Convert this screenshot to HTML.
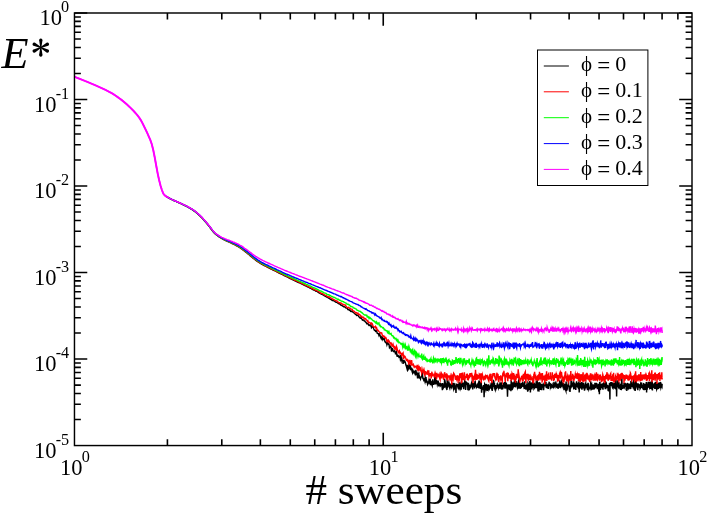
<!DOCTYPE html>
<html><head><meta charset="utf-8"><title>E* vs sweeps</title>
<style>
html,body{margin:0;padding:0;background:#fff;}
body{width:708px;height:515px;overflow:hidden;}
svg{display:block;will-change:transform;}
text{font-family:"Liberation Serif",serif;fill:#000;}
</style></head><body>
<svg width="708" height="515" viewBox="0 0 708 515">
<rect width="708" height="515" fill="#fff"/>
<g fill="none" stroke-width="1.45" stroke-linejoin="miter" stroke-miterlimit="6" stroke-linecap="butt">
<path stroke="#000000" d="M166.1 196.4 L167.4 197.2 L168.8 198.0 L170.1 198.6 L171.4 199.3 L172.7 199.9 L174.0 200.5 L175.2 201.1 L176.5 201.6 L177.7 202.2 L179.0 202.7 L180.2 203.2 L181.4 203.8 L182.6 204.4 L183.8 205.0 L185.0 205.6 L186.2 206.1 L187.3 206.7 L188.5 207.4 L189.6 208.0 L190.7 208.7 L191.9 209.4 L193.0 210.1 L194.1 210.9 L195.2 211.7 L196.3 212.6 L197.3 213.5 L198.4 214.4 L199.5 215.4 L200.5 216.4 L201.6 217.4 L202.6 218.6 L203.6 219.7 L204.6 220.9 L205.7 222.1 L206.7 223.3 L207.7 224.4 L208.6 225.6 L209.6 226.9 L210.6 228.3 L211.6 229.6 L212.5 230.9 L213.5 232.0 L214.4 233.1 L215.4 234.0 L216.3 234.8 L217.2 235.5 L218.2 236.1 L219.1 236.8 L220.0 237.4 L220.9 237.9 L221.8 238.5 L222.7 239.0 L223.6 239.5 L224.4 239.9 L225.3 240.3 L226.2 240.8 L227.0 241.1 L227.9 241.5 L228.8 241.9 L229.6 242.3 L230.4 242.7 L231.3 243.1 L232.1 243.5 L232.9 243.9 L233.8 244.3 L234.6 244.7 L235.4 245.1 L236.2 245.5 L237.0 246.0 L237.8 246.4 L238.6 246.9 L239.4 247.3 L240.1 247.9 L240.9 248.4 L241.7 248.9 L242.5 249.5 L243.2 250.1 L244.0 250.7 L244.7 251.2 L245.5 251.8 L246.2 252.4 L247.0 253.0 L247.7 253.6 L248.5 254.2 L249.2 254.8 L249.9 255.4 L250.6 256.1 L251.4 256.7 L252.1 257.3 L252.8 257.9 L253.5 258.5 L254.2 259.0 L254.9 259.5 L255.6 260.1 L256.3 260.6 L257.0 261.1 L257.7 261.6 L258.3 262.0 L259.0 262.5 L259.7 262.9 L260.4 263.3 L261.7 264.1 L263.0 264.9 L264.3 265.6 L265.6 266.2 L266.9 266.9 L268.2 267.5 L269.4 268.1 L270.7 268.8 L271.9 269.4 L273.1 270.0 L274.4 270.6 L275.6 271.2 L276.8 271.8 L277.9 272.4 L279.1 273.0 L280.3 273.6 L281.4 274.2 L282.6 274.7 L283.7 275.3 L284.8 275.8 L285.9 276.4 L287.0 276.9 L288.1 277.4 L289.2 278.0 L290.3 278.5 L291.4 279.0 L292.4 279.5 L293.5 280.0 L294.5 280.5 L295.5 281.0 L296.6 281.5 L297.6 282.0 L298.6 282.5 L299.6 282.9 L300.6 283.3 L301.6 283.8 L302.6 284.4 L303.6 284.8 L304.5 285.4 L305.5 285.8 L306.4 286.2 L307.4 286.8 L308.3 287.1 L309.3 287.5 L310.2 288.3 L311.1 288.4 L312.0 289.1 L312.9 289.6 L313.8 290.0 L314.7 290.3 L315.6 291.0 L316.5 291.2 L317.4 291.7 L318.3 292.3 L319.1 292.9 L320.0 293.3 L320.9 293.9 L321.7 294.2 L322.5 294.7 L323.4 295.0 L324.2 295.6 L325.1 296.2 L325.9 296.5 L326.7 297.1 L327.5 297.4 L328.3 297.8 L329.1 298.4 L329.9 298.8 L330.7 299.4 L331.5 299.7 L332.3 300.5 L333.1 300.5 L333.9 300.9 L334.6 301.1 L335.4 301.8 L336.2 302.3 L336.9 302.4 L337.7 303.0 L338.4 303.6 L339.2 303.8 L339.9 304.1 L340.7 305.0 L341.4 305.1 L342.1 305.6 L342.9 306.3 L343.6 306.8 L344.3 306.7 L345.0 307.1 L345.7 307.8 L346.4 308.1 L347.1 307.9 L347.8 309.5 L348.5 309.5 L349.2 310.2 L349.9 309.9 L350.6 311.3 L351.3 311.0 L352.0 311.7 L352.6 311.6 L353.3 312.5 L354.0 313.0 L354.6 313.4 L355.3 314.2 L356.0 314.5 L356.6 315.4 L357.3 315.2 L357.9 315.4 L358.6 316.3 L359.2 317.1 L359.9 318.0 L360.5 318.2 L361.1 317.4 L361.8 319.0 L362.4 320.1 L363.0 319.8 L363.6 320.0 L364.3 321.0 L364.9 321.0 L365.5 322.2 L366.1 322.3 L366.7 323.7 L367.3 323.6 L367.9 323.3 L368.5 324.8 L369.1 325.5 L369.7 325.0 L370.3 325.6 L370.9 324.8 L371.5 327.7 L372.1 327.1 L372.6 326.5 L373.2 327.3 L373.8 329.0 L374.4 330.3 L374.9 330.2 L375.5 331.2 L376.1 330.5 L376.6 330.8 L377.2 333.3 L377.8 333.5 L378.3 333.6 L378.9 335.4 L379.4 334.0 L380.0 335.1 L380.5 337.0 L381.1 338.3 L381.6 337.3 L382.2 339.4 L382.7 337.9 L383.2 339.4 L383.8 339.5 L384.3 338.7 L384.8 341.2 L385.4 342.4 L385.9 341.9 L386.4 342.6 L386.9 344.7 L387.5 342.6 L388.0 342.9 L388.5 344.3 L389.0 344.3 L389.5 347.7 L390.0 347.1 L390.5 346.4 L391.0 347.2 L391.6 351.7 L392.1 348.4 L392.6 348.7 L393.1 350.5 L393.6 351.5 L394.1 351.6 L394.5 350.8 L395.0 351.1 L395.5 353.7 L396.0 353.5 L396.5 352.1 L397.0 356.1 L397.5 356.2 L398.0 355.4 L398.4 355.9 L398.9 357.1 L399.4 356.4 L399.9 356.1 L400.3 358.7 L400.8 356.9 L401.3 359.9 L401.7 357.9 L402.2 360.2 L402.7 360.7 L403.1 363.8 L403.6 360.4 L404.1 360.4 L404.5 361.9 L405.0 361.7 L405.4 363.0 L405.9 365.0 L406.3 366.0 L406.8 367.8 L407.2 364.7 L407.7 370.3 L408.1 369.8 L408.6 366.9 L409.0 364.0 L409.5 368.0 L409.9 368.6 L410.3 365.2 L410.8 369.5 L411.2 369.5 L411.6 368.9 L412.1 371.6 L412.5 372.7 L412.9 370.6 L413.4 372.1 L413.8 371.0 L414.2 371.1 L414.7 373.0 L415.1 374.1 L415.5 372.5 L415.9 369.9 L416.3 375.2 L416.8 371.6 L417.2 375.0 L417.6 378.3 L418.0 375.4 L418.4 373.5 L418.8 373.2 L419.2 378.5 L419.6 376.5 L420.1 377.8 L420.5 378.9 L420.9 377.3 L421.3 377.0 L421.7 376.0 L422.1 372.1 L422.5 375.4 L422.9 378.5 L423.3 378.5 L423.7 379.9 L424.1 379.1 L424.5 379.9 L424.9 381.4 L425.3 378.2 L425.6 379.6 L426.0 377.1 L426.4 382.7 L426.8 380.9 L427.2 382.0 L427.6 384.4 L428.0 383.6 L428.4 381.3 L428.7 383.3 L429.1 378.6 L429.5 382.8 L429.9 382.3 L430.2 378.5 L430.5 385.1 L430.9 380.7 L431.2 383.9 L431.5 381.5 L431.9 384.8 L432.2 385.6 L432.5 380.9 L432.8 379.4 L433.2 382.6 L433.5 384.9 L433.8 382.3 L434.2 381.8 L434.5 384.4 L434.8 377.1 L435.1 381.9 L435.5 380.4 L435.8 384.3 L436.1 382.0 L436.5 381.2 L436.8 383.0 L437.1 380.6 L437.4 384.0 L437.8 382.5 L438.1 383.3 L438.4 382.6 L438.8 386.4 L439.1 384.1 L439.4 385.6 L439.7 385.6 L440.1 382.7 L440.4 385.9 L440.7 385.5 L441.0 385.5 L441.4 383.9 L441.7 383.9 L442.0 386.8 L442.4 390.1 L442.7 383.1 L443.0 386.3 L443.3 384.3 L443.7 387.0 L444.0 386.3 L444.3 387.8 L444.6 378.8 L445.0 384.0 L445.3 383.1 L445.6 385.2 L445.9 383.8 L446.3 384.0 L446.6 387.1 L446.9 390.1 L447.2 378.9 L447.6 384.9 L447.9 386.4 L448.2 385.7 L448.5 384.8 L448.9 382.4 L449.2 383.4 L449.5 387.4 L449.8 388.3 L450.2 385.9 L450.5 383.7 L450.8 385.9 L451.1 385.1 L451.5 387.0 L451.8 386.0 L452.1 384.2 L452.4 386.2 L452.8 382.9 L453.1 387.7 L453.4 388.6 L453.7 382.9 L454.1 386.8 L454.4 383.3 L454.7 388.4 L455.0 388.0 L455.4 385.2 L455.7 388.2 L456.0 393.0 L456.3 384.2 L456.6 384.3 L457.0 385.4 L457.3 385.0 L457.6 386.1 L457.9 384.2 L458.3 387.7 L458.6 388.3 L458.9 384.5 L459.2 382.2 L459.5 387.6 L459.9 388.6 L460.2 385.4 L460.5 382.6 L460.8 386.4 L461.2 389.6 L461.5 381.1 L461.8 387.0 L462.1 385.0 L462.4 383.6 L462.8 387.1 L463.1 382.5 L463.4 386.5 L463.7 389.1 L464.0 386.2 L464.4 383.6 L464.7 381.3 L465.0 382.5 L465.3 381.1 L465.6 389.9 L466.0 385.2 L466.3 383.1 L466.6 382.5 L466.9 383.1 L467.2 385.0 L467.6 382.5 L467.9 390.1 L468.2 383.9 L468.5 383.8 L468.8 386.6 L469.2 389.6 L469.5 389.3 L469.8 384.6 L470.1 386.5 L470.4 386.2 L470.8 387.2 L471.1 386.5 L471.4 383.4 L471.7 382.5 L472.0 386.3 L472.4 382.7 L472.7 389.4 L473.0 385.9 L473.3 383.1 L473.6 385.0 L473.9 384.5 L474.3 385.5 L474.6 388.4 L474.9 382.0 L475.2 380.9 L475.5 386.8 L475.9 385.4 L476.2 386.3 L476.5 387.0 L476.8 385.4 L477.1 388.0 L477.4 383.5 L477.8 386.0 L478.1 383.6 L478.4 382.8 L478.7 387.5 L479.0 387.4 L479.3 380.6 L479.7 382.8 L480.0 386.7 L480.3 388.8 L480.6 384.1 L480.9 385.4 L481.2 382.1 L481.6 392.7 L481.9 387.2 L482.2 388.3 L482.5 387.7 L482.8 388.4 L483.1 387.5 L483.4 385.0 L483.8 387.9 L484.1 397.2 L484.4 389.4 L484.7 383.9 L485.0 384.4 L485.3 387.7 L485.7 389.3 L486.0 386.3 L486.3 384.0 L486.6 385.6 L486.9 384.5 L487.2 391.0 L487.5 388.3 L487.9 389.3 L488.2 386.7 L488.5 384.4 L488.8 389.1 L489.1 390.4 L489.4 387.5 L489.7 385.8 L490.1 388.8 L490.4 384.9 L490.7 388.0 L491.0 384.0 L491.3 383.3 L491.6 387.4 L491.9 386.8 L492.2 391.0 L492.6 385.1 L492.9 386.0 L493.2 382.8 L493.5 380.8 L493.8 381.1 L494.1 387.1 L494.4 382.7 L494.8 388.9 L495.1 389.7 L495.4 385.1 L495.7 390.4 L496.0 386.5 L496.3 388.9 L496.6 385.3 L496.9 388.5 L497.2 383.4 L497.6 387.6 L497.9 384.7 L498.2 385.5 L498.5 387.6 L498.8 386.4 L499.1 385.7 L499.4 387.9 L499.7 388.1 L500.0 382.2 L500.4 387.4 L500.7 387.7 L501.0 383.9 L501.3 386.9 L501.6 382.3 L501.9 389.8 L502.2 385.3 L502.5 385.7 L502.8 389.1 L503.2 385.5 L503.5 387.5 L503.8 383.1 L504.1 384.4 L504.4 382.1 L504.7 385.3 L505.0 388.7 L505.3 386.5 L505.6 388.3 L505.9 383.1 L506.3 383.5 L506.6 384.6 L506.9 387.4 L507.2 386.9 L507.5 396.8 L507.8 387.6 L508.1 385.5 L508.4 385.8 L508.7 389.4 L509.0 384.3 L509.3 386.4 L509.6 390.2 L510.0 386.2 L510.3 387.8 L510.6 384.3 L510.9 391.2 L511.2 379.8 L511.5 382.8 L511.8 383.0 L512.1 390.3 L512.4 386.8 L512.7 385.2 L513.0 382.4 L513.3 386.9 L513.6 386.2 L514.0 384.0 L514.3 381.9 L514.6 382.9 L514.9 386.5 L515.2 386.7 L515.5 386.1 L515.8 385.5 L516.1 381.1 L516.4 386.0 L516.7 383.1 L517.0 386.0 L517.3 387.1 L517.6 384.1 L517.9 383.1 L518.2 388.6 L518.6 386.8 L518.9 384.2 L519.2 377.8 L519.5 385.8 L519.8 387.6 L520.1 388.9 L520.4 384.1 L520.7 384.2 L521.0 384.7 L521.3 388.2 L521.6 382.7 L521.9 385.6 L522.2 383.4 L522.5 386.6 L522.8 381.7 L523.1 386.9 L523.4 384.5 L523.7 385.3 L524.0 387.3 L524.3 389.0 L524.7 381.3 L525.0 388.6 L525.3 387.4 L525.6 385.1 L525.9 389.7 L526.2 386.4 L526.5 389.4 L526.8 384.3 L527.1 383.5 L527.4 389.2 L527.7 391.7 L528.0 387.6 L528.3 388.3 L528.6 384.6 L528.9 382.3 L529.2 385.3 L529.5 389.9 L529.8 380.9 L530.1 384.5 L530.4 392.5 L530.7 386.2 L531.0 388.2 L531.3 382.5 L531.6 384.8 L531.9 389.5 L532.2 385.6 L532.5 382.5 L532.8 382.3 L533.1 380.4 L533.4 388.0 L533.7 383.9 L534.0 388.7 L534.3 388.2 L534.6 384.1 L534.9 384.5 L535.3 388.0 L535.6 386.3 L535.9 386.6 L536.2 381.4 L536.5 388.3 L536.8 383.5 L537.1 379.8 L537.4 384.2 L537.7 387.0 L538.0 391.5 L538.3 384.9 L538.6 382.3 L538.9 391.6 L539.2 386.3 L539.5 385.2 L539.8 383.0 L540.1 383.2 L540.4 389.9 L540.7 385.1 L541.0 384.4 L541.3 384.5 L541.6 390.1 L541.9 384.3 L542.2 387.6 L542.4 386.6 L542.7 386.5 L543.0 383.5 L543.3 387.6 L543.6 390.2 L543.9 385.7 L544.2 383.4 L544.5 382.4 L544.8 386.4 L545.1 385.1 L545.4 385.6 L545.7 385.9 L546.0 381.9 L546.3 388.0 L546.6 386.5 L546.8 385.7 L547.1 386.5 L547.4 388.3 L547.7 386.0 L548.0 383.6 L548.3 389.0 L548.6 384.7 L548.9 383.9 L549.2 381.7 L549.4 385.9 L549.7 383.1 L550.0 384.5 L550.3 387.1 L550.6 386.0 L550.9 388.6 L551.2 386.7 L551.4 384.8 L551.7 385.0 L552.0 384.5 L552.3 387.6 L552.6 385.9 L552.8 384.8 L553.1 388.1 L553.4 386.1 L553.7 384.6 L554.0 381.9 L554.2 387.0 L554.5 386.5 L554.8 386.0 L555.1 384.7 L555.4 383.7 L555.6 385.3 L555.9 386.5 L556.2 385.5 L556.5 385.5 L556.7 384.6 L557.0 386.8 L557.3 386.5 L557.6 383.9 L557.8 387.9 L558.1 387.9 L558.4 388.0 L558.7 385.5 L558.9 385.3 L559.2 382.8 L559.5 387.8 L559.8 380.2 L560.0 384.8 L560.3 385.0 L560.6 388.1 L560.8 385.9 L561.1 383.3 L561.4 382.1 L561.6 383.9 L561.9 386.1 L562.2 386.0 L562.4 385.3 L562.7 384.1 L563.0 385.3 L563.2 388.5 L563.5 383.0 L563.8 385.9 L564.0 390.1 L564.3 387.3 L564.6 384.7 L564.8 387.6 L565.1 383.9 L565.4 385.9 L565.6 389.9 L565.9 390.8 L566.1 381.4 L566.4 387.7 L566.7 390.9 L566.9 384.4 L567.2 386.5 L567.4 389.8 L567.7 384.6 L568.0 387.0 L568.2 385.7 L568.5 380.8 L568.7 386.8 L569.0 385.4 L569.3 388.3 L569.5 391.3 L569.8 387.6 L570.0 392.0 L570.3 387.0 L570.5 386.4 L570.8 388.5 L571.0 382.1 L571.3 382.8 L571.6 380.5 L571.8 387.4 L572.1 385.8 L572.3 384.2 L572.6 384.0 L572.8 384.4 L573.1 383.4 L573.3 385.0 L573.6 384.6 L573.8 389.4 L574.1 386.7 L574.3 383.7 L574.6 384.3 L574.8 388.9 L575.1 387.0 L575.3 386.6 L575.6 387.7 L575.8 389.9 L576.1 382.7 L576.3 383.9 L576.6 381.4 L576.8 387.1 L577.0 384.9 L577.3 384.1 L577.5 383.9 L577.8 387.6 L578.0 385.5 L578.3 384.5 L578.5 389.1 L578.8 383.1 L579.0 382.6 L579.2 392.5 L579.5 384.9 L579.7 384.4 L580.0 384.0 L580.2 385.5 L580.4 387.8 L580.7 387.8 L580.9 387.2 L581.2 385.1 L581.4 382.0 L581.6 386.6 L581.9 389.7 L582.1 388.6 L582.4 385.4 L582.6 387.9 L582.8 384.8 L583.1 385.7 L583.3 382.7 L583.5 385.0 L583.8 386.2 L584.0 385.4 L584.2 387.8 L584.5 390.6 L584.7 389.2 L585.0 385.1 L585.2 384.0 L585.4 384.2 L585.7 383.3 L585.9 385.9 L586.1 386.9 L586.3 386.3 L586.6 386.3 L586.8 386.2 L587.0 385.5 L587.3 383.9 L587.5 390.2 L587.7 388.5 L588.0 383.5 L588.2 383.5 L588.4 384.3 L588.6 385.9 L588.9 389.0 L589.1 388.4 L589.3 388.5 L589.6 388.6 L589.8 388.6 L590.0 387.7 L590.2 387.0 L590.5 385.5 L590.7 381.4 L590.9 385.5 L591.1 390.4 L591.4 384.5 L591.6 384.2 L591.8 388.4 L592.0 386.0 L592.3 384.6 L592.5 389.8 L592.7 387.4 L592.9 387.7 L593.1 384.4 L593.4 387.1 L593.6 386.8 L593.8 387.8 L594.0 388.7 L594.3 388.7 L594.5 386.2 L594.7 387.6 L594.9 382.9 L595.1 387.4 L595.4 387.5 L595.6 384.8 L595.8 383.9 L596.0 385.7 L596.2 382.8 L596.4 386.7 L596.7 386.6 L596.9 383.4 L597.1 385.9 L597.3 388.5 L597.5 388.5 L597.7 388.3 L597.9 385.4 L598.2 385.0 L598.4 384.8 L598.6 387.3 L598.8 391.7 L599.0 389.3 L599.2 389.8 L599.4 394.2 L599.7 381.8 L599.9 385.3 L600.1 384.7 L600.3 388.9 L600.5 390.0 L600.7 384.1 L600.9 385.9 L601.1 387.2 L601.3 384.6 L601.6 384.2 L601.8 384.1 L602.0 388.0 L602.2 383.5 L602.4 388.6 L602.6 386.0 L602.8 387.7 L603.0 389.6 L603.2 384.1 L603.4 383.8 L603.6 386.9 L603.8 383.2 L604.0 384.0 L604.2 385.5 L604.5 386.2 L604.7 382.7 L604.9 384.9 L605.1 387.2 L605.3 389.1 L605.5 380.9 L605.7 389.0 L605.9 388.0 L606.1 383.1 L606.3 382.2 L606.5 386.8 L606.7 384.8 L606.9 386.1 L607.1 387.9 L607.3 384.9 L607.5 386.2 L607.7 387.0 L607.9 388.0 L608.1 390.1 L608.3 390.0 L608.5 386.4 L608.7 385.2 L608.9 391.6 L609.1 387.4 L609.3 386.8 L609.5 383.1 L609.7 387.7 L609.9 399.6 L610.1 384.7 L610.3 382.5 L610.5 384.5 L610.7 385.9 L610.9 382.1 L611.1 383.6 L611.3 385.6 L611.4 382.7 L611.6 382.7 L611.8 383.8 L612.0 382.4 L612.2 387.3 L612.4 383.4 L612.6 387.7 L612.8 388.0 L613.0 382.9 L613.2 385.9 L613.4 384.6 L613.6 383.0 L613.8 385.0 L614.0 385.2 L614.1 387.5 L614.3 388.3 L614.5 383.1 L614.7 384.8 L614.9 387.1 L615.1 388.6 L615.3 379.9 L615.5 388.9 L615.7 385.4 L615.9 389.5 L616.0 384.8 L616.2 383.8 L616.4 385.9 L616.6 396.4 L616.8 385.9 L617.0 380.1 L617.2 387.4 L617.3 381.9 L617.5 383.4 L617.7 383.0 L617.9 381.3 L618.1 382.7 L618.3 383.4 L618.5 384.3 L618.6 385.7 L618.8 385.0 L619.0 382.2 L619.2 385.3 L619.4 388.1 L619.6 388.1 L619.7 386.1 L619.9 387.3 L620.1 387.9 L620.3 389.1 L620.5 389.9 L620.7 385.0 L620.8 385.1 L621.0 389.3 L621.2 389.5 L621.4 389.5 L621.6 380.1 L621.7 385.2 L621.9 377.9 L622.1 387.5 L622.3 385.9 L622.5 385.9 L622.6 385.4 L622.8 388.9 L623.0 385.1 L623.2 388.3 L623.3 387.1 L623.5 386.6 L623.7 386.9 L623.9 386.0 L624.0 383.1 L624.2 387.5 L624.4 387.5 L624.6 385.4 L624.7 387.5 L624.9 387.9 L625.1 382.7 L625.3 385.4 L625.4 384.7 L625.6 383.6 L625.8 386.5 L626.0 383.7 L626.1 384.7 L626.3 386.4 L626.5 386.6 L626.7 386.5 L626.8 391.1 L627.0 384.6 L627.2 386.4 L627.3 382.9 L627.5 386.9 L627.7 388.5 L627.9 388.7 L628.0 384.2 L628.2 385.1 L628.4 388.8 L628.5 385.5 L628.7 388.0 L628.9 383.4 L629.0 389.1 L629.2 388.2 L629.4 386.9 L629.6 383.9 L629.7 385.4 L629.9 386.1 L630.1 386.4 L630.2 385.5 L630.4 385.2 L630.6 386.2 L630.7 389.1 L630.9 381.0 L631.1 382.5 L631.2 382.1 L631.4 384.1 L631.6 381.6 L631.7 387.1 L631.9 386.0 L632.0 385.2 L632.2 384.1 L632.4 386.1 L632.5 386.2 L632.7 386.5 L632.9 384.0 L633.0 387.3 L633.2 382.3 L633.4 388.7 L633.5 378.5 L633.7 384.4 L633.8 382.9 L634.0 387.6 L634.2 382.2 L634.3 390.1 L634.5 382.1 L634.6 390.5 L634.8 386.8 L635.0 385.8 L635.1 386.8 L635.3 390.9 L635.4 387.9 L635.6 380.5 L635.8 388.6 L635.9 386.3 L636.1 381.9 L636.2 387.5 L636.4 382.9 L636.6 386.2 L636.7 386.3 L636.9 384.2 L637.0 387.3 L637.2 383.3 L637.3 386.2 L637.5 384.5 L637.6 385.3 L637.8 390.3 L638.0 386.0 L638.1 383.2 L638.3 385.5 L638.4 383.9 L638.6 385.8 L638.7 386.1 L638.9 385.9 L639.0 385.9 L639.2 384.5 L639.4 386.8 L639.5 388.2 L639.7 384.3 L639.8 385.6 L640.0 385.9 L640.1 388.7 L640.3 388.3 L640.4 384.0 L640.6 385.9 L640.7 382.3 L640.9 383.5 L641.0 385.8 L641.2 387.2 L641.3 388.0 L641.5 385.0 L641.6 382.6 L641.8 386.7 L641.9 385.3 L642.1 386.7 L642.2 386.1 L642.4 387.4 L642.5 387.3 L642.7 387.7 L642.8 384.7 L643.0 388.1 L643.1 384.6 L643.3 385.9 L643.4 390.1 L643.6 386.6 L643.7 383.0 L643.9 389.2 L644.0 388.1 L644.2 388.4 L644.3 386.2 L644.4 386.5 L644.6 385.2 L644.7 384.1 L644.9 389.3 L645.0 384.9 L645.2 384.6 L645.3 384.7 L645.5 390.0 L645.6 387.8 L645.7 384.9 L645.9 385.6 L646.0 386.9 L646.2 387.8 L646.3 382.0 L646.5 387.8 L646.6 392.5 L646.8 384.1 L646.9 384.8 L647.0 387.6 L647.2 389.8 L647.3 386.1 L647.5 387.0 L647.6 383.8 L647.7 386.9 L647.9 387.6 L648.0 382.3 L648.2 384.5 L648.3 387.6 L648.4 381.7 L648.6 384.9 L648.7 387.1 L648.9 381.8 L649.0 384.8 L649.1 385.9 L649.3 387.8 L649.4 382.8 L649.6 388.3 L649.7 386.4 L649.8 388.5 L650.0 388.4 L650.1 386.5 L650.3 386.8 L650.4 381.7 L650.5 382.6 L650.7 383.4 L650.8 384.9 L650.9 387.9 L651.1 381.6 L651.2 385.0 L651.3 382.7 L651.5 382.2 L651.6 389.1 L651.8 385.9 L651.9 389.5 L652.0 388.4 L652.2 383.6 L652.3 381.5 L652.4 390.5 L652.6 384.8 L652.7 383.1 L652.8 387.3 L653.0 386.0 L653.1 384.2 L653.2 384.9 L653.4 386.1 L653.5 385.9 L653.6 387.4 L653.8 384.9 L653.9 384.9 L654.0 387.1 L654.2 386.4 L654.3 388.2 L654.4 385.1 L654.5 385.5 L654.7 383.1 L654.8 389.1 L654.9 382.5 L655.1 386.2 L655.2 383.7 L655.3 386.5 L655.5 387.4 L655.6 382.0 L655.7 385.2 L655.8 381.7 L656.0 388.9 L656.1 384.7 L656.2 382.1 L656.4 384.1 L656.5 388.7 L656.6 389.1 L656.7 388.6 L656.9 383.9 L657.0 385.4 L657.1 389.4 L657.3 384.0 L657.4 385.0 L657.5 383.5 L657.6 383.1 L657.8 388.4 L657.9 387.1 L658.0 386.7 L658.1 387.0 L658.3 388.0 L658.4 389.1 L658.5 385.7 L658.6 384.9 L658.8 383.4 L658.9 388.2 L659.0 384.5 L659.1 382.3 L659.3 385.1 L659.4 385.8 L659.5 387.6 L659.6 388.0 L659.8 384.1 L659.9 383.9 L660.0 385.0 L660.1 383.0 L660.3 385.5 L660.4 386.7 L660.5 385.8 L660.6 382.1 L660.7 383.0 L660.9 388.6 L661.0 383.4 L661.1 387.4 L661.2 387.1 L661.4 385.0 L661.5 383.5 L661.6 386.2 L661.7 383.7 L661.8 385.3 L662.0 385.9 L662.1 384.1 L662.1 385.2"/>
<path stroke="#ff0000" d="M166.1 196.4 L167.4 197.2 L168.8 197.9 L170.1 198.6 L171.4 199.3 L172.7 199.9 L174.0 200.5 L175.2 201.1 L176.5 201.6 L177.7 202.1 L179.0 202.7 L180.2 203.2 L181.4 203.8 L182.6 204.3 L183.8 204.9 L185.0 205.5 L186.2 206.1 L187.3 206.7 L188.5 207.3 L189.6 207.9 L190.7 208.6 L191.9 209.3 L193.0 210.0 L194.1 210.8 L195.2 211.6 L196.3 212.5 L197.3 213.4 L198.4 214.4 L199.5 215.3 L200.5 216.3 L201.6 217.4 L202.6 218.5 L203.6 219.6 L204.6 220.8 L205.7 222.0 L206.7 223.2 L207.7 224.4 L208.6 225.6 L209.6 226.9 L210.6 228.2 L211.6 229.5 L212.5 230.8 L213.5 231.9 L214.4 233.0 L215.4 233.9 L216.3 234.7 L217.2 235.4 L218.2 236.0 L219.1 236.6 L220.0 237.2 L220.9 237.8 L221.8 238.3 L222.7 238.8 L223.6 239.3 L224.4 239.7 L225.3 240.1 L226.2 240.5 L227.0 240.9 L227.9 241.3 L228.8 241.6 L229.6 242.0 L230.4 242.4 L231.3 242.8 L232.1 243.2 L232.9 243.6 L233.8 244.0 L234.6 244.4 L235.4 244.8 L236.2 245.2 L237.0 245.6 L237.8 246.1 L238.6 246.5 L239.4 247.0 L240.1 247.5 L240.9 248.0 L241.7 248.6 L242.5 249.1 L243.2 249.7 L244.0 250.3 L244.7 250.9 L245.5 251.4 L246.2 252.0 L247.0 252.6 L247.7 253.2 L248.5 253.8 L249.2 254.4 L249.9 255.0 L250.6 255.7 L251.4 256.3 L252.1 256.9 L252.8 257.5 L253.5 258.1 L254.2 258.6 L254.9 259.1 L255.6 259.7 L256.3 260.2 L257.0 260.7 L257.7 261.2 L258.3 261.6 L259.0 262.1 L259.7 262.5 L260.4 262.9 L261.7 263.7 L263.0 264.4 L264.3 265.1 L265.6 265.8 L266.9 266.5 L268.2 267.1 L269.4 267.7 L270.7 268.3 L271.9 269.0 L273.1 269.6 L274.4 270.2 L275.6 270.8 L276.8 271.4 L277.9 272.0 L279.1 272.5 L280.3 273.1 L281.4 273.7 L282.6 274.2 L283.7 274.8 L284.8 275.3 L285.9 275.9 L287.0 276.4 L288.1 276.9 L289.2 277.4 L290.3 278.0 L291.4 278.5 L292.4 279.0 L293.5 279.4 L294.5 280.0 L295.5 280.5 L296.6 280.9 L297.6 281.4 L298.6 281.9 L299.6 282.4 L300.6 282.8 L301.6 283.4 L302.6 283.8 L303.6 284.2 L304.5 284.8 L305.5 285.2 L306.4 285.7 L307.4 286.1 L308.3 286.4 L309.3 287.1 L310.2 287.4 L311.1 287.9 L312.0 288.4 L312.9 288.7 L313.8 289.3 L314.7 289.8 L315.6 290.1 L316.5 290.6 L317.4 290.9 L318.3 291.4 L319.1 291.8 L320.0 292.4 L320.9 293.2 L321.7 293.3 L322.5 293.7 L323.4 294.2 L324.2 294.7 L325.1 295.1 L325.9 295.3 L326.7 296.1 L327.5 296.3 L328.3 296.9 L329.1 296.8 L329.9 297.3 L330.7 298.1 L331.5 298.1 L332.3 298.9 L333.1 299.3 L333.9 299.6 L334.6 300.1 L335.4 300.4 L336.2 300.9 L336.9 301.0 L337.7 301.5 L338.4 302.6 L339.2 302.6 L339.9 302.8 L340.7 303.2 L341.4 303.3 L342.1 304.0 L342.9 304.2 L343.6 305.0 L344.3 304.9 L345.0 304.8 L345.7 305.8 L346.4 306.6 L347.1 307.6 L347.8 307.6 L348.5 307.3 L349.2 308.0 L349.9 308.2 L350.6 308.9 L351.3 309.1 L352.0 309.2 L352.6 310.4 L353.3 310.8 L354.0 311.1 L354.6 311.7 L355.3 312.8 L356.0 312.5 L356.6 312.8 L357.3 313.7 L357.9 313.2 L358.6 314.6 L359.2 314.4 L359.9 314.8 L360.5 315.7 L361.1 316.9 L361.8 316.3 L362.4 317.5 L363.0 317.7 L363.6 317.3 L364.3 319.0 L364.9 318.5 L365.5 318.7 L366.1 319.5 L366.7 320.0 L367.3 321.2 L367.9 321.0 L368.5 322.8 L369.1 322.5 L369.7 322.5 L370.3 322.9 L370.9 324.0 L371.5 323.1 L372.1 323.5 L372.6 324.8 L373.2 326.4 L373.8 326.6 L374.4 327.0 L374.9 327.3 L375.5 326.5 L376.1 328.3 L376.6 327.8 L377.2 330.2 L377.8 330.1 L378.3 330.6 L378.9 331.5 L379.4 332.0 L380.0 332.4 L380.5 333.1 L381.1 332.9 L381.6 332.8 L382.2 334.7 L382.7 336.2 L383.2 336.4 L383.8 335.9 L384.3 337.2 L384.8 336.8 L385.4 338.1 L385.9 337.8 L386.4 339.0 L386.9 341.2 L387.5 340.6 L388.0 341.8 L388.5 340.3 L389.0 340.9 L389.5 342.0 L390.0 343.1 L390.5 342.9 L391.0 344.6 L391.6 343.7 L392.1 346.1 L392.6 346.2 L393.1 344.7 L393.6 346.9 L394.1 346.6 L394.5 348.4 L395.0 347.4 L395.5 348.8 L396.0 349.5 L396.5 346.6 L397.0 348.0 L397.5 350.6 L398.0 350.8 L398.4 352.6 L398.9 352.2 L399.4 351.1 L399.9 353.3 L400.3 352.6 L400.8 353.6 L401.3 353.7 L401.7 355.2 L402.2 353.6 L402.7 354.4 L403.1 353.5 L403.6 359.2 L404.1 355.9 L404.5 356.5 L405.0 356.5 L405.4 357.6 L405.9 358.3 L406.3 360.1 L406.8 360.0 L407.2 360.6 L407.7 359.8 L408.1 360.9 L408.6 363.1 L409.0 361.8 L409.5 362.6 L409.9 359.8 L410.3 363.7 L410.8 363.7 L411.2 365.6 L411.6 360.1 L412.1 364.5 L412.5 364.6 L412.9 365.2 L413.4 364.5 L413.8 366.1 L414.2 367.2 L414.7 366.5 L415.1 366.2 L415.5 366.7 L415.9 366.7 L416.3 367.6 L416.8 366.7 L417.2 364.9 L417.6 370.6 L418.0 365.8 L418.4 368.7 L418.8 367.0 L419.2 368.9 L419.6 368.0 L420.1 369.8 L420.5 368.7 L420.9 368.1 L421.3 371.1 L421.7 373.2 L422.1 371.7 L422.5 371.5 L422.9 369.6 L423.3 371.6 L423.7 372.7 L424.1 370.9 L424.5 374.0 L424.9 372.4 L425.3 373.4 L425.6 371.9 L426.0 372.1 L426.4 373.6 L426.8 374.1 L427.2 374.2 L427.6 371.7 L428.0 372.4 L428.4 373.9 L428.7 370.4 L429.1 376.2 L429.5 374.9 L429.9 374.4 L430.2 373.0 L430.5 376.1 L430.9 374.0 L431.2 378.4 L431.5 375.5 L431.9 371.7 L432.2 376.3 L432.5 373.8 L432.8 373.9 L433.2 374.5 L433.5 374.8 L433.8 375.6 L434.2 376.7 L434.5 376.2 L434.8 373.8 L435.1 372.6 L435.5 373.8 L435.8 376.2 L436.1 377.3 L436.5 379.3 L436.8 372.8 L437.1 375.8 L437.4 375.3 L437.8 374.9 L438.1 376.1 L438.4 375.4 L438.8 375.4 L439.1 374.6 L439.4 376.9 L439.7 378.3 L440.1 379.5 L440.4 375.1 L440.7 374.0 L441.0 375.7 L441.4 374.5 L441.7 378.5 L442.0 374.6 L442.4 376.6 L442.7 373.6 L443.0 375.7 L443.3 376.9 L443.7 379.8 L444.0 375.1 L444.3 377.4 L444.6 372.2 L445.0 374.0 L445.3 374.9 L445.6 375.6 L445.9 377.6 L446.3 378.1 L446.6 373.3 L446.9 377.9 L447.2 374.4 L447.6 380.8 L447.9 377.5 L448.2 377.2 L448.5 376.4 L448.9 376.8 L449.2 376.9 L449.5 375.3 L449.8 378.5 L450.2 377.5 L450.5 378.5 L450.8 376.7 L451.1 378.4 L451.5 375.2 L451.8 384.8 L452.1 375.3 L452.4 375.9 L452.8 379.0 L453.1 379.6 L453.4 375.1 L453.7 373.2 L454.1 373.8 L454.4 374.7 L454.7 375.1 L455.0 376.5 L455.4 379.2 L455.7 379.3 L456.0 375.5 L456.3 378.1 L456.6 378.9 L457.0 380.1 L457.3 376.5 L457.6 375.2 L457.9 378.6 L458.3 380.4 L458.6 375.7 L458.9 381.4 L459.2 380.9 L459.5 376.3 L459.9 373.3 L460.2 375.5 L460.5 376.1 L460.8 378.2 L461.2 373.1 L461.5 382.6 L461.8 382.4 L462.1 375.3 L462.4 372.6 L462.8 376.5 L463.1 377.9 L463.4 380.1 L463.7 378.6 L464.0 376.5 L464.4 372.3 L464.7 378.1 L465.0 378.9 L465.3 376.2 L465.6 377.6 L466.0 377.4 L466.3 376.4 L466.6 374.2 L466.9 377.8 L467.2 373.6 L467.6 380.3 L467.9 374.8 L468.2 378.1 L468.5 375.2 L468.8 377.9 L469.2 376.4 L469.5 378.2 L469.8 375.1 L470.1 373.0 L470.4 376.3 L470.8 376.1 L471.1 373.3 L471.4 375.3 L471.7 372.9 L472.0 377.2 L472.4 376.1 L472.7 377.0 L473.0 383.3 L473.3 377.3 L473.6 377.9 L473.9 378.5 L474.3 376.6 L474.6 375.5 L474.9 379.1 L475.2 379.5 L475.5 369.8 L475.9 376.6 L476.2 376.1 L476.5 375.6 L476.8 380.0 L477.1 375.7 L477.4 379.1 L477.8 375.6 L478.1 376.0 L478.4 378.8 L478.7 375.1 L479.0 376.6 L479.3 374.2 L479.7 374.8 L480.0 378.8 L480.3 378.4 L480.6 374.1 L480.9 374.0 L481.2 383.3 L481.6 375.4 L481.9 374.8 L482.2 378.3 L482.5 375.0 L482.8 376.1 L483.1 379.2 L483.4 379.5 L483.8 376.5 L484.1 380.3 L484.4 376.6 L484.7 376.4 L485.0 377.0 L485.3 376.2 L485.7 378.3 L486.0 377.7 L486.3 375.0 L486.6 377.4 L486.9 375.6 L487.2 375.5 L487.5 376.6 L487.9 379.5 L488.2 377.7 L488.5 380.2 L488.8 380.9 L489.1 376.9 L489.4 375.5 L489.7 375.0 L490.1 377.7 L490.4 379.2 L490.7 380.9 L491.0 373.7 L491.3 379.3 L491.6 379.7 L491.9 383.1 L492.2 377.5 L492.6 376.9 L492.9 373.2 L493.2 375.1 L493.5 374.2 L493.8 374.5 L494.1 374.8 L494.4 373.2 L494.8 376.8 L495.1 378.0 L495.4 378.9 L495.7 376.8 L496.0 379.7 L496.3 379.7 L496.6 373.2 L496.9 376.3 L497.2 373.9 L497.6 374.6 L497.9 377.5 L498.2 376.7 L498.5 380.7 L498.8 382.1 L499.1 378.1 L499.4 376.6 L499.7 376.7 L500.0 377.0 L500.4 378.5 L500.7 375.2 L501.0 378.5 L501.3 376.4 L501.6 379.7 L501.9 380.4 L502.2 381.4 L502.5 376.7 L502.8 373.7 L503.2 372.8 L503.5 376.3 L503.8 373.5 L504.1 372.9 L504.4 376.2 L504.7 374.6 L505.0 378.8 L505.3 381.9 L505.6 376.5 L505.9 377.8 L506.3 373.1 L506.6 377.5 L506.9 375.3 L507.2 374.3 L507.5 372.4 L507.8 381.1 L508.1 373.0 L508.4 374.0 L508.7 377.1 L509.0 377.8 L509.3 377.8 L509.6 377.3 L510.0 374.8 L510.3 379.0 L510.6 377.6 L510.9 373.5 L511.2 381.1 L511.5 376.2 L511.8 379.5 L512.1 373.4 L512.4 374.1 L512.7 375.7 L513.0 375.4 L513.3 379.6 L513.6 373.0 L514.0 377.5 L514.3 374.6 L514.6 378.4 L514.9 377.6 L515.2 375.7 L515.5 382.7 L515.8 377.0 L516.1 379.8 L516.4 373.8 L516.7 376.8 L517.0 377.3 L517.3 377.4 L517.6 376.2 L517.9 375.0 L518.2 369.4 L518.6 375.7 L518.9 374.8 L519.2 376.5 L519.5 379.3 L519.8 382.7 L520.1 378.4 L520.4 379.7 L520.7 378.7 L521.0 378.9 L521.3 378.6 L521.6 376.5 L521.9 376.3 L522.2 378.0 L522.5 381.6 L522.8 379.1 L523.1 381.2 L523.4 373.9 L523.7 377.8 L524.0 378.1 L524.3 378.4 L524.7 373.7 L525.0 372.5 L525.3 371.8 L525.6 376.2 L525.9 383.0 L526.2 377.7 L526.5 374.1 L526.8 378.0 L527.1 376.4 L527.4 377.6 L527.7 376.0 L528.0 373.9 L528.3 375.8 L528.6 378.9 L528.9 377.9 L529.2 380.2 L529.5 374.5 L529.8 379.8 L530.1 377.3 L530.4 377.7 L530.7 380.3 L531.0 376.9 L531.3 377.8 L531.6 378.8 L531.9 378.8 L532.2 379.2 L532.5 380.4 L532.8 378.5 L533.1 376.1 L533.4 383.4 L533.7 377.2 L534.0 378.2 L534.3 375.4 L534.6 371.8 L534.9 375.3 L535.3 377.4 L535.6 378.6 L535.9 377.3 L536.2 379.2 L536.5 379.7 L536.8 379.7 L537.1 377.3 L537.4 377.5 L537.7 376.7 L538.0 375.1 L538.3 380.8 L538.6 374.2 L538.9 377.1 L539.2 377.8 L539.5 371.9 L539.8 379.1 L540.1 376.4 L540.4 377.8 L540.7 376.4 L541.0 373.4 L541.3 377.8 L541.6 377.5 L541.9 379.8 L542.2 378.4 L542.4 373.1 L542.7 380.0 L543.0 379.2 L543.3 379.2 L543.6 378.5 L543.9 375.5 L544.2 378.6 L544.5 376.4 L544.8 384.4 L545.1 376.7 L545.4 374.5 L545.7 376.4 L546.0 380.8 L546.3 375.9 L546.6 371.2 L546.8 380.9 L547.1 378.1 L547.4 376.0 L547.7 379.0 L548.0 375.0 L548.3 374.4 L548.6 379.6 L548.9 376.0 L549.2 378.6 L549.4 377.3 L549.7 379.3 L550.0 377.5 L550.3 372.2 L550.6 378.9 L550.9 376.1 L551.2 379.4 L551.4 377.5 L551.7 380.8 L552.0 376.5 L552.3 372.2 L552.6 376.5 L552.8 378.5 L553.1 376.4 L553.4 376.1 L553.7 380.9 L554.0 376.9 L554.2 379.8 L554.5 377.6 L554.8 373.7 L555.1 374.9 L555.4 376.5 L555.6 378.0 L555.9 375.3 L556.2 373.8 L556.5 374.8 L556.7 376.0 L557.0 375.1 L557.3 375.8 L557.6 381.8 L557.8 377.9 L558.1 375.2 L558.4 377.2 L558.7 381.1 L558.9 378.8 L559.2 377.0 L559.5 373.9 L559.8 373.1 L560.0 376.4 L560.3 377.0 L560.6 373.3 L560.8 374.0 L561.1 377.1 L561.4 371.8 L561.6 373.0 L561.9 377.1 L562.2 378.6 L562.4 378.0 L562.7 379.6 L563.0 381.0 L563.2 379.4 L563.5 376.6 L563.8 382.4 L564.0 381.3 L564.3 379.5 L564.6 375.3 L564.8 378.2 L565.1 372.2 L565.4 376.4 L565.6 371.2 L565.9 376.2 L566.1 379.7 L566.4 377.3 L566.7 381.1 L566.9 377.2 L567.2 377.5 L567.4 376.5 L567.7 378.5 L568.0 377.2 L568.2 380.1 L568.5 381.1 L568.7 378.1 L569.0 374.5 L569.3 378.6 L569.5 380.5 L569.8 378.8 L570.0 378.0 L570.3 379.5 L570.5 380.4 L570.8 371.0 L571.0 380.9 L571.3 379.1 L571.6 378.4 L571.8 375.9 L572.1 377.8 L572.3 378.7 L572.6 373.7 L572.8 379.0 L573.1 377.4 L573.3 380.8 L573.6 378.9 L573.8 376.8 L574.1 377.4 L574.3 378.8 L574.6 377.6 L574.8 378.6 L575.1 375.6 L575.3 374.3 L575.6 375.9 L575.8 373.9 L576.1 375.4 L576.3 378.1 L576.6 373.4 L576.8 374.3 L577.0 379.0 L577.3 376.0 L577.5 377.2 L577.8 374.3 L578.0 374.8 L578.3 376.5 L578.5 381.1 L578.8 378.3 L579.0 373.3 L579.2 378.3 L579.5 379.4 L579.7 378.9 L580.0 374.3 L580.2 377.1 L580.4 382.3 L580.7 375.0 L580.9 378.0 L581.2 375.5 L581.4 374.2 L581.6 376.2 L581.9 379.7 L582.1 380.0 L582.4 375.2 L582.6 376.1 L582.8 375.1 L583.1 372.3 L583.3 378.7 L583.5 380.9 L583.8 380.8 L584.0 376.1 L584.2 380.4 L584.5 379.8 L584.7 376.5 L585.0 377.2 L585.2 376.4 L585.4 377.8 L585.7 381.5 L585.9 375.1 L586.1 374.4 L586.3 379.3 L586.6 377.4 L586.8 372.8 L587.0 374.9 L587.3 375.3 L587.5 375.8 L587.7 378.0 L588.0 379.6 L588.2 376.9 L588.4 377.6 L588.6 375.5 L588.9 379.6 L589.1 380.4 L589.3 376.6 L589.6 375.5 L589.8 382.1 L590.0 379.4 L590.2 375.2 L590.5 373.3 L590.7 376.6 L590.9 380.1 L591.1 376.0 L591.4 376.7 L591.6 376.1 L591.8 378.8 L592.0 380.5 L592.3 374.3 L592.5 376.6 L592.7 376.8 L592.9 375.8 L593.1 374.5 L593.4 379.2 L593.6 377.6 L593.8 378.9 L594.0 380.8 L594.3 376.4 L594.5 378.5 L594.7 376.3 L594.9 377.1 L595.1 378.0 L595.4 376.9 L595.6 373.8 L595.8 380.8 L596.0 377.6 L596.2 374.6 L596.4 372.2 L596.7 377.2 L596.9 378.8 L597.1 379.6 L597.3 379.9 L597.5 376.4 L597.7 378.8 L597.9 373.7 L598.2 377.6 L598.4 379.4 L598.6 375.9 L598.8 376.9 L599.0 377.5 L599.2 377.6 L599.4 380.7 L599.7 374.8 L599.9 380.4 L600.1 374.4 L600.3 375.7 L600.5 375.5 L600.7 377.1 L600.9 376.1 L601.1 378.4 L601.3 377.3 L601.6 382.3 L601.8 378.2 L602.0 376.7 L602.2 378.1 L602.4 378.6 L602.6 376.8 L602.8 374.7 L603.0 375.4 L603.2 377.7 L603.4 379.2 L603.6 378.4 L603.8 377.1 L604.0 378.5 L604.2 376.1 L604.5 377.9 L604.7 380.5 L604.9 379.8 L605.1 380.3 L605.3 376.4 L605.5 377.7 L605.7 375.0 L605.9 379.3 L606.1 376.3 L606.3 374.2 L606.5 376.1 L606.7 377.8 L606.9 372.2 L607.1 374.0 L607.3 379.5 L607.5 377.5 L607.7 377.1 L607.9 373.6 L608.1 380.8 L608.3 379.6 L608.5 378.8 L608.7 374.7 L608.9 378.5 L609.1 379.8 L609.3 376.5 L609.5 376.7 L609.7 376.2 L609.9 378.6 L610.1 376.7 L610.3 376.5 L610.5 373.9 L610.7 373.5 L610.9 379.3 L611.1 380.8 L611.3 379.2 L611.4 380.4 L611.6 376.0 L611.8 377.1 L612.0 378.1 L612.2 376.8 L612.4 381.0 L612.6 374.2 L612.8 375.9 L613.0 376.4 L613.2 375.6 L613.4 379.1 L613.6 372.7 L613.8 379.8 L614.0 379.2 L614.1 377.9 L614.3 380.3 L614.5 382.5 L614.7 377.6 L614.9 378.8 L615.1 378.1 L615.3 378.4 L615.5 376.1 L615.7 375.6 L615.9 378.6 L616.0 376.1 L616.2 379.3 L616.4 379.0 L616.6 376.2 L616.8 378.0 L617.0 377.4 L617.2 376.9 L617.3 379.8 L617.5 377.3 L617.7 377.8 L617.9 372.9 L618.1 378.6 L618.3 374.0 L618.5 376.4 L618.6 380.8 L618.8 381.2 L619.0 376.4 L619.2 374.5 L619.4 378.1 L619.6 376.4 L619.7 378.0 L619.9 374.3 L620.1 379.7 L620.3 380.7 L620.5 374.0 L620.7 375.5 L620.8 375.7 L621.0 378.9 L621.2 372.9 L621.4 377.7 L621.6 376.7 L621.7 375.5 L621.9 378.8 L622.1 372.9 L622.3 374.2 L622.5 375.5 L622.6 378.8 L622.8 376.5 L623.0 375.4 L623.2 378.3 L623.3 376.2 L623.5 375.8 L623.7 376.6 L623.9 378.0 L624.0 383.2 L624.2 374.9 L624.4 377.9 L624.6 376.9 L624.7 376.7 L624.9 380.6 L625.1 379.0 L625.3 378.7 L625.4 376.3 L625.6 375.4 L625.8 377.9 L626.0 376.6 L626.1 376.0 L626.3 378.7 L626.5 374.6 L626.7 375.7 L626.8 379.0 L627.0 377.1 L627.2 378.7 L627.3 375.4 L627.5 378.8 L627.7 375.7 L627.9 380.3 L628.0 379.0 L628.2 378.3 L628.4 380.6 L628.5 378.1 L628.7 375.9 L628.9 380.7 L629.0 378.1 L629.2 380.0 L629.4 377.6 L629.6 379.8 L629.7 375.4 L629.9 374.6 L630.1 374.3 L630.2 379.0 L630.4 373.0 L630.6 373.4 L630.7 374.2 L630.9 377.8 L631.1 378.3 L631.2 375.5 L631.4 379.0 L631.6 378.0 L631.7 379.9 L631.9 379.4 L632.0 375.8 L632.2 377.8 L632.4 377.0 L632.5 378.3 L632.7 377.8 L632.9 377.4 L633.0 378.9 L633.2 377.5 L633.4 378.9 L633.5 377.4 L633.7 377.0 L633.8 379.3 L634.0 379.4 L634.2 380.0 L634.3 378.7 L634.5 376.9 L634.6 377.7 L634.8 377.7 L635.0 373.5 L635.1 374.9 L635.3 380.6 L635.4 377.2 L635.6 371.2 L635.8 377.1 L635.9 377.7 L636.1 374.7 L636.2 382.2 L636.4 379.7 L636.6 379.1 L636.7 376.9 L636.9 378.4 L637.0 379.1 L637.2 378.3 L637.3 375.9 L637.5 377.7 L637.6 377.6 L637.8 377.9 L638.0 375.1 L638.1 377.9 L638.3 377.3 L638.4 377.8 L638.6 377.7 L638.7 374.2 L638.9 379.1 L639.0 378.9 L639.2 374.4 L639.4 377.1 L639.5 375.5 L639.7 376.3 L639.8 379.4 L640.0 378.4 L640.1 381.5 L640.3 377.5 L640.4 374.9 L640.6 377.5 L640.7 372.0 L640.9 381.0 L641.0 377.8 L641.2 378.2 L641.3 377.5 L641.5 375.4 L641.6 376.9 L641.8 375.5 L641.9 376.1 L642.1 377.9 L642.2 374.6 L642.4 380.6 L642.5 374.9 L642.7 378.9 L642.8 375.8 L643.0 374.5 L643.1 377.9 L643.3 377.5 L643.4 376.6 L643.6 377.0 L643.7 375.8 L643.9 378.0 L644.0 376.0 L644.2 377.1 L644.3 379.4 L644.4 374.2 L644.6 375.8 L644.7 375.6 L644.9 375.3 L645.0 374.2 L645.2 376.4 L645.3 377.3 L645.5 376.8 L645.6 373.6 L645.7 378.4 L645.9 378.5 L646.0 377.1 L646.2 374.9 L646.3 375.2 L646.5 381.1 L646.6 380.6 L646.8 378.0 L646.9 375.0 L647.0 379.6 L647.2 377.3 L647.3 380.5 L647.5 375.8 L647.6 377.9 L647.7 376.5 L647.9 378.5 L648.0 375.6 L648.2 378.9 L648.3 376.1 L648.4 375.1 L648.6 378.1 L648.7 377.4 L648.9 372.5 L649.0 376.9 L649.1 377.2 L649.3 377.3 L649.4 381.2 L649.6 375.6 L649.7 376.9 L649.8 373.4 L650.0 373.9 L650.1 375.7 L650.3 376.7 L650.4 376.5 L650.5 378.3 L650.7 378.5 L650.8 379.0 L650.9 376.6 L651.1 378.0 L651.2 375.4 L651.3 377.7 L651.5 377.9 L651.6 375.9 L651.8 370.2 L651.9 375.6 L652.0 382.3 L652.2 376.7 L652.3 375.6 L652.4 377.1 L652.6 379.2 L652.7 377.6 L652.8 376.5 L653.0 374.3 L653.1 376.3 L653.2 374.4 L653.4 377.7 L653.5 380.1 L653.6 379.1 L653.8 375.7 L653.9 374.9 L654.0 374.0 L654.2 377.8 L654.3 378.1 L654.4 378.6 L654.5 377.6 L654.7 374.4 L654.8 372.9 L654.9 379.2 L655.1 375.2 L655.2 380.8 L655.3 372.5 L655.5 374.6 L655.6 375.0 L655.7 377.4 L655.8 378.3 L656.0 375.7 L656.1 378.1 L656.2 374.2 L656.4 375.8 L656.5 374.4 L656.6 375.7 L656.7 375.6 L656.9 377.5 L657.0 384.0 L657.1 374.0 L657.3 376.5 L657.4 378.3 L657.5 377.0 L657.6 379.8 L657.8 374.8 L657.9 378.5 L658.0 375.3 L658.1 378.6 L658.3 377.2 L658.4 377.4 L658.5 375.7 L658.6 373.1 L658.8 374.6 L658.9 378.3 L659.0 376.3 L659.1 378.4 L659.3 374.1 L659.4 378.2 L659.5 378.9 L659.6 372.3 L659.8 377.5 L659.9 380.9 L660.0 375.3 L660.1 378.9 L660.3 376.9 L660.4 378.6 L660.5 376.1 L660.6 375.3 L660.7 376.0 L660.9 376.1 L661.0 375.7 L661.1 375.1 L661.2 379.1 L661.4 375.7 L661.5 374.4 L661.6 375.0 L661.7 377.9 L661.8 372.3 L662.0 377.9 L662.1 378.3 L662.1 379.5"/>
<path stroke="#00ff00" d="M166.1 196.4 L167.4 197.2 L168.8 197.9 L170.1 198.6 L171.4 199.3 L172.7 199.9 L174.0 200.5 L175.2 201.1 L176.5 201.6 L177.7 202.1 L179.0 202.6 L180.2 203.2 L181.4 203.7 L182.6 204.3 L183.8 204.9 L185.0 205.5 L186.2 206.1 L187.3 206.7 L188.5 207.3 L189.6 207.9 L190.7 208.6 L191.9 209.2 L193.0 210.0 L194.1 210.7 L195.2 211.6 L196.3 212.4 L197.3 213.3 L198.4 214.3 L199.5 215.2 L200.5 216.2 L201.6 217.3 L202.6 218.4 L203.6 219.5 L204.6 220.7 L205.7 221.9 L206.7 223.1 L207.7 224.2 L208.6 225.4 L209.6 226.7 L210.6 228.0 L211.6 229.3 L212.5 230.6 L213.5 231.8 L214.4 232.8 L215.4 233.7 L216.3 234.5 L217.2 235.2 L218.2 235.8 L219.1 236.4 L220.0 237.0 L220.9 237.6 L221.8 238.1 L222.7 238.6 L223.6 239.1 L224.4 239.5 L225.3 239.9 L226.2 240.3 L227.0 240.7 L227.9 241.0 L228.8 241.4 L229.6 241.8 L230.4 242.1 L231.3 242.5 L232.1 242.9 L232.9 243.3 L233.8 243.7 L234.6 244.1 L235.4 244.4 L236.2 244.8 L237.0 245.2 L237.8 245.7 L238.6 246.1 L239.4 246.6 L240.1 247.1 L240.9 247.6 L241.7 248.1 L242.5 248.7 L243.2 249.2 L244.0 249.8 L244.7 250.4 L245.5 251.0 L246.2 251.5 L247.0 252.1 L247.7 252.7 L248.5 253.3 L249.2 253.9 L249.9 254.5 L250.6 255.1 L251.4 255.7 L252.1 256.3 L252.8 256.9 L253.5 257.5 L254.2 258.1 L254.9 258.6 L255.6 259.1 L256.3 259.6 L257.0 260.1 L257.7 260.6 L258.3 261.0 L259.0 261.5 L259.7 261.9 L260.4 262.3 L261.7 263.1 L263.0 263.8 L264.3 264.5 L265.6 265.2 L266.9 265.8 L268.2 266.4 L269.4 267.0 L270.7 267.7 L271.9 268.3 L273.1 268.9 L274.4 269.5 L275.6 270.1 L276.8 270.6 L277.9 271.2 L279.1 271.8 L280.3 272.4 L281.4 272.9 L282.6 273.4 L283.7 274.0 L284.8 274.5 L285.9 275.0 L287.0 275.5 L288.1 276.1 L289.2 276.6 L290.3 277.0 L291.4 277.5 L292.4 278.0 L293.5 278.5 L294.5 279.0 L295.5 279.4 L296.6 279.9 L297.6 280.4 L298.6 280.8 L299.6 281.3 L300.6 281.7 L301.6 282.2 L302.6 282.6 L303.6 283.0 L304.5 283.5 L305.5 283.9 L306.4 284.3 L307.4 284.7 L308.3 285.2 L309.3 285.6 L310.2 285.9 L311.1 286.5 L312.0 287.0 L312.9 287.3 L313.8 287.8 L314.7 288.1 L315.6 288.5 L316.5 289.0 L317.4 289.4 L318.3 289.8 L319.1 290.3 L320.0 290.7 L320.9 291.0 L321.7 291.5 L322.5 291.9 L323.4 292.4 L324.2 292.9 L325.1 293.1 L325.9 293.4 L326.7 294.1 L327.5 294.6 L328.3 294.7 L329.1 295.0 L329.9 295.4 L330.7 295.9 L331.5 296.3 L332.3 296.6 L333.1 297.1 L333.9 297.2 L334.6 297.6 L335.4 297.8 L336.2 298.6 L336.9 298.9 L337.7 299.3 L338.4 299.3 L339.2 300.0 L339.9 300.2 L340.7 300.7 L341.4 301.0 L342.1 301.2 L342.9 301.6 L343.6 301.7 L344.3 302.3 L345.0 302.7 L345.7 302.9 L346.4 303.6 L347.1 304.3 L347.8 304.2 L348.5 304.5 L349.2 304.9 L349.9 305.6 L350.6 306.4 L351.3 306.4 L352.0 306.7 L352.6 306.8 L353.3 307.6 L354.0 308.1 L354.6 308.2 L355.3 308.7 L356.0 308.9 L356.6 309.7 L357.3 310.3 L357.9 310.4 L358.6 310.8 L359.2 311.1 L359.9 311.2 L360.5 311.6 L361.1 312.1 L361.8 312.7 L362.4 313.1 L363.0 313.8 L363.6 314.2 L364.3 314.9 L364.9 315.0 L365.5 315.0 L366.1 315.5 L366.7 315.2 L367.3 317.0 L367.9 316.5 L368.5 316.9 L369.1 318.4 L369.7 317.5 L370.3 318.1 L370.9 318.8 L371.5 318.9 L372.1 319.7 L372.6 320.2 L373.2 320.8 L373.8 320.8 L374.4 321.7 L374.9 321.6 L375.5 322.5 L376.1 323.3 L376.6 322.0 L377.2 323.3 L377.8 324.0 L378.3 323.2 L378.9 322.9 L379.4 325.4 L380.0 325.2 L380.5 326.6 L381.1 326.5 L381.6 326.9 L382.2 327.2 L382.7 327.9 L383.2 327.7 L383.8 328.4 L384.3 329.7 L384.8 329.4 L385.4 330.4 L385.9 330.5 L386.4 330.7 L386.9 330.7 L387.5 332.4 L388.0 331.6 L388.5 332.9 L389.0 331.9 L389.5 333.7 L390.0 334.2 L390.5 333.9 L391.0 333.5 L391.6 335.1 L392.1 335.7 L392.6 335.7 L393.1 336.0 L393.6 337.7 L394.1 337.3 L394.5 337.5 L395.0 338.9 L395.5 338.7 L396.0 338.5 L396.5 340.2 L397.0 339.6 L397.5 341.1 L398.0 340.2 L398.4 341.4 L398.9 342.6 L399.4 342.3 L399.9 342.8 L400.3 343.1 L400.8 343.9 L401.3 343.6 L401.7 344.3 L402.2 344.0 L402.7 346.5 L403.1 344.2 L403.6 346.2 L404.1 344.8 L404.5 346.7 L405.0 347.8 L405.4 345.8 L405.9 349.1 L406.3 346.6 L406.8 347.1 L407.2 348.7 L407.7 347.5 L408.1 350.1 L408.6 349.9 L409.0 346.7 L409.5 348.5 L409.9 349.6 L410.3 351.2 L410.8 349.8 L411.2 350.5 L411.6 352.3 L412.1 350.7 L412.5 352.5 L412.9 350.8 L413.4 353.9 L413.8 354.7 L414.2 351.9 L414.7 350.6 L415.1 351.7 L415.5 355.2 L415.9 353.5 L416.3 355.8 L416.8 353.0 L417.2 353.7 L417.6 355.0 L418.0 356.7 L418.4 355.3 L418.8 354.4 L419.2 356.3 L419.6 356.3 L420.1 357.0 L420.5 356.3 L420.9 355.9 L421.3 356.9 L421.7 353.6 L422.1 357.6 L422.5 359.2 L422.9 358.4 L423.3 356.4 L423.7 355.7 L424.1 360.0 L424.5 357.5 L424.9 358.1 L425.3 358.9 L425.6 357.8 L426.0 358.9 L426.4 361.2 L426.8 358.3 L427.2 362.1 L427.6 359.9 L428.0 359.9 L428.4 361.0 L428.7 361.0 L429.1 361.3 L429.5 360.6 L429.9 358.9 L430.2 362.4 L430.5 359.7 L430.9 358.6 L431.2 361.4 L431.5 361.1 L431.9 360.0 L432.2 360.3 L432.5 361.1 L432.8 363.3 L433.2 360.2 L433.5 358.3 L433.8 359.4 L434.2 361.2 L434.5 360.1 L434.8 359.4 L435.1 361.7 L435.5 361.7 L435.8 360.3 L436.1 361.1 L436.5 359.6 L436.8 359.7 L437.1 360.2 L437.4 358.5 L437.8 361.3 L438.1 360.7 L438.4 360.0 L438.8 361.0 L439.1 361.1 L439.4 359.7 L439.7 360.0 L440.1 359.7 L440.4 363.2 L440.7 358.2 L441.0 360.9 L441.4 362.5 L441.7 359.3 L442.0 359.5 L442.4 359.5 L442.7 358.1 L443.0 363.1 L443.3 360.7 L443.7 359.3 L444.0 360.1 L444.3 361.4 L444.6 360.6 L445.0 359.7 L445.3 362.0 L445.6 359.7 L445.9 360.5 L446.3 361.5 L446.6 360.0 L446.9 361.4 L447.2 360.1 L447.6 365.8 L447.9 360.6 L448.2 362.5 L448.5 359.8 L448.9 359.4 L449.2 361.1 L449.5 360.7 L449.8 360.7 L450.2 361.3 L450.5 362.9 L450.8 364.7 L451.1 364.9 L451.5 361.4 L451.8 364.5 L452.1 364.3 L452.4 360.2 L452.8 360.5 L453.1 361.2 L453.4 364.8 L453.7 361.1 L454.1 360.9 L454.4 363.8 L454.7 361.0 L455.0 361.1 L455.4 362.4 L455.7 361.7 L456.0 357.0 L456.3 359.1 L456.6 362.6 L457.0 358.8 L457.3 363.6 L457.6 361.2 L457.9 361.8 L458.3 361.9 L458.6 358.1 L458.9 360.1 L459.2 359.5 L459.5 361.8 L459.9 364.2 L460.2 361.0 L460.5 361.5 L460.8 357.9 L461.2 360.7 L461.5 361.0 L461.8 361.1 L462.1 362.5 L462.4 364.0 L462.8 361.4 L463.1 362.2 L463.4 358.6 L463.7 362.6 L464.0 361.5 L464.4 358.2 L464.7 362.1 L465.0 360.3 L465.3 363.4 L465.6 362.4 L466.0 361.7 L466.3 364.7 L466.6 361.2 L466.9 361.0 L467.2 361.6 L467.6 361.8 L467.9 360.0 L468.2 362.6 L468.5 362.4 L468.8 360.6 L469.2 358.6 L469.5 363.9 L469.8 364.1 L470.1 363.3 L470.4 363.5 L470.8 365.1 L471.1 362.3 L471.4 364.8 L471.7 361.5 L472.0 360.1 L472.4 361.8 L472.7 361.2 L473.0 362.8 L473.3 365.3 L473.6 362.6 L473.9 363.9 L474.3 366.0 L474.6 365.4 L474.9 362.1 L475.2 360.6 L475.5 366.0 L475.9 359.8 L476.2 358.3 L476.5 358.0 L476.8 364.2 L477.1 359.0 L477.4 361.4 L477.8 361.7 L478.1 364.5 L478.4 359.2 L478.7 362.0 L479.0 362.5 L479.3 364.7 L479.7 361.5 L480.0 362.5 L480.3 361.4 L480.6 364.1 L480.9 363.8 L481.2 361.2 L481.6 363.0 L481.9 359.0 L482.2 362.1 L482.5 360.2 L482.8 361.1 L483.1 364.0 L483.4 366.3 L483.8 362.4 L484.1 361.7 L484.4 361.3 L484.7 363.5 L485.0 361.6 L485.3 364.0 L485.7 365.1 L486.0 363.3 L486.3 361.2 L486.6 363.5 L486.9 360.6 L487.2 358.5 L487.5 364.3 L487.9 365.9 L488.2 364.7 L488.5 361.3 L488.8 355.2 L489.1 360.5 L489.4 363.3 L489.7 361.2 L490.1 364.8 L490.4 360.4 L490.7 363.0 L491.0 362.5 L491.3 362.5 L491.6 359.2 L491.9 361.8 L492.2 362.5 L492.6 361.2 L492.9 359.4 L493.2 361.0 L493.5 360.1 L493.8 362.7 L494.1 364.0 L494.4 362.7 L494.8 362.7 L495.1 361.6 L495.4 362.4 L495.7 358.0 L496.0 362.1 L496.3 363.8 L496.6 360.9 L496.9 363.4 L497.2 358.9 L497.6 362.1 L497.9 361.6 L498.2 362.9 L498.5 362.3 L498.8 366.5 L499.1 355.5 L499.4 359.0 L499.7 360.6 L500.0 362.2 L500.4 360.7 L500.7 360.6 L501.0 358.8 L501.3 359.2 L501.6 360.2 L501.9 365.1 L502.2 360.3 L502.5 367.6 L502.8 364.2 L503.2 361.4 L503.5 363.6 L503.8 364.1 L504.1 359.5 L504.4 358.7 L504.7 365.0 L505.0 360.0 L505.3 363.8 L505.6 363.4 L505.9 358.6 L506.3 363.3 L506.6 363.1 L506.9 364.6 L507.2 361.9 L507.5 362.9 L507.8 362.8 L508.1 361.5 L508.4 365.4 L508.7 364.0 L509.0 365.2 L509.3 362.7 L509.6 364.4 L510.0 360.0 L510.3 360.7 L510.6 364.1 L510.9 361.5 L511.2 361.2 L511.5 362.3 L511.8 358.7 L512.1 362.3 L512.4 363.0 L512.7 361.3 L513.0 359.7 L513.3 365.6 L513.6 362.9 L514.0 359.9 L514.3 360.8 L514.6 358.6 L514.9 358.4 L515.2 358.0 L515.5 360.3 L515.8 362.9 L516.1 363.5 L516.4 361.8 L516.7 364.1 L517.0 363.2 L517.3 359.6 L517.6 360.2 L517.9 362.6 L518.2 363.4 L518.6 364.2 L518.9 359.1 L519.2 358.0 L519.5 366.2 L519.8 361.4 L520.1 364.1 L520.4 362.1 L520.7 359.1 L521.0 364.9 L521.3 363.0 L521.6 365.1 L521.9 363.3 L522.2 360.0 L522.5 362.0 L522.8 364.1 L523.1 360.6 L523.4 362.4 L523.7 364.5 L524.0 359.5 L524.3 361.3 L524.7 362.4 L525.0 364.1 L525.3 361.9 L525.6 360.6 L525.9 363.2 L526.2 360.8 L526.5 362.9 L526.8 362.8 L527.1 361.7 L527.4 363.9 L527.7 364.5 L528.0 359.3 L528.3 363.2 L528.6 361.7 L528.9 361.5 L529.2 362.3 L529.5 364.5 L529.8 361.8 L530.1 361.4 L530.4 359.5 L530.7 361.7 L531.0 362.1 L531.3 360.1 L531.6 361.5 L531.9 363.1 L532.2 365.0 L532.5 361.5 L532.8 366.3 L533.1 364.2 L533.4 364.0 L533.7 363.4 L534.0 362.4 L534.3 360.8 L534.6 362.0 L534.9 362.3 L535.3 362.5 L535.6 365.4 L535.9 366.4 L536.2 363.3 L536.5 364.3 L536.8 360.8 L537.1 358.1 L537.4 362.0 L537.7 362.7 L538.0 365.2 L538.3 367.3 L538.6 362.8 L538.9 365.0 L539.2 364.6 L539.5 362.7 L539.8 364.0 L540.1 363.1 L540.4 365.5 L540.7 360.1 L541.0 357.4 L541.3 362.6 L541.6 364.2 L541.9 364.5 L542.2 361.1 L542.4 363.4 L542.7 360.9 L543.0 363.7 L543.3 360.7 L543.6 360.0 L543.9 364.3 L544.2 359.7 L544.5 359.2 L544.8 364.0 L545.1 362.5 L545.4 357.5 L545.7 364.8 L546.0 359.7 L546.3 361.3 L546.6 362.1 L546.8 366.5 L547.1 362.2 L547.4 364.2 L547.7 362.0 L548.0 363.4 L548.3 359.4 L548.6 362.3 L548.9 361.0 L549.2 360.2 L549.4 362.9 L549.7 364.5 L550.0 363.3 L550.3 361.6 L550.6 363.8 L550.9 360.0 L551.2 363.0 L551.4 363.4 L551.7 362.1 L552.0 361.8 L552.3 362.6 L552.6 361.1 L552.8 361.8 L553.1 363.8 L553.4 358.3 L553.7 364.9 L554.0 363.3 L554.2 362.7 L554.5 360.2 L554.8 361.4 L555.1 361.1 L555.4 363.7 L555.6 363.6 L555.9 364.7 L556.2 362.4 L556.5 358.1 L556.7 360.3 L557.0 361.5 L557.3 363.0 L557.6 359.2 L557.8 361.9 L558.1 362.4 L558.4 361.0 L558.7 361.9 L558.9 366.9 L559.2 362.2 L559.5 366.3 L559.8 362.7 L560.0 360.8 L560.3 363.4 L560.6 361.4 L560.8 362.1 L561.1 357.6 L561.4 362.9 L561.6 361.0 L561.9 364.5 L562.2 362.4 L562.4 361.4 L562.7 360.1 L563.0 362.3 L563.2 361.4 L563.5 360.6 L563.8 366.0 L564.0 361.9 L564.3 364.0 L564.6 365.2 L564.8 363.0 L565.1 363.5 L565.4 363.2 L565.6 364.2 L565.9 363.4 L566.1 363.2 L566.4 362.5 L566.7 361.2 L566.9 361.3 L567.2 360.9 L567.4 362.6 L567.7 364.9 L568.0 360.3 L568.2 360.9 L568.5 360.2 L568.7 362.1 L569.0 364.3 L569.3 361.5 L569.5 362.8 L569.8 357.5 L570.0 361.9 L570.3 363.2 L570.5 360.9 L570.8 358.9 L571.0 363.1 L571.3 362.0 L571.6 365.8 L571.8 361.0 L572.1 361.9 L572.3 361.4 L572.6 362.4 L572.8 358.5 L573.1 364.9 L573.3 363.5 L573.6 361.7 L573.8 361.5 L574.1 363.2 L574.3 362.9 L574.6 361.3 L574.8 361.8 L575.1 362.9 L575.3 361.3 L575.6 361.5 L575.8 361.3 L576.1 361.5 L576.3 359.6 L576.6 360.3 L576.8 362.9 L577.0 363.8 L577.3 362.1 L577.5 355.0 L577.8 359.2 L578.0 363.0 L578.3 365.6 L578.5 364.6 L578.8 361.8 L579.0 361.5 L579.2 361.3 L579.5 365.7 L579.7 362.7 L580.0 360.3 L580.2 364.1 L580.4 363.9 L580.7 358.1 L580.9 360.9 L581.2 364.2 L581.4 364.0 L581.6 359.7 L581.9 362.2 L582.1 364.0 L582.4 362.9 L582.6 360.1 L582.8 361.8 L583.1 363.5 L583.3 363.2 L583.5 360.3 L583.8 366.9 L584.0 362.7 L584.2 359.2 L584.5 361.6 L584.7 356.8 L585.0 360.9 L585.2 362.1 L585.4 367.0 L585.7 362.6 L585.9 363.0 L586.1 363.7 L586.3 362.7 L586.6 361.0 L586.8 364.9 L587.0 363.3 L587.3 365.3 L587.5 364.3 L587.7 360.4 L588.0 361.3 L588.2 361.5 L588.4 361.5 L588.6 363.1 L588.9 361.9 L589.1 360.7 L589.3 365.2 L589.6 365.0 L589.8 362.3 L590.0 360.2 L590.2 361.0 L590.5 360.8 L590.7 360.5 L590.9 360.3 L591.1 362.7 L591.4 362.9 L591.6 363.1 L591.8 360.4 L592.0 362.9 L592.3 366.2 L592.5 362.7 L592.7 361.5 L592.9 367.7 L593.1 362.9 L593.4 361.0 L593.6 364.0 L593.8 360.9 L594.0 361.6 L594.3 364.3 L594.5 361.1 L594.7 359.4 L594.9 363.7 L595.1 363.9 L595.4 359.6 L595.6 361.6 L595.8 364.4 L596.0 362.8 L596.2 363.9 L596.4 362.1 L596.7 361.1 L596.9 361.2 L597.1 361.7 L597.3 362.7 L597.5 357.0 L597.7 358.6 L597.9 362.3 L598.2 363.6 L598.4 361.0 L598.6 362.3 L598.8 360.2 L599.0 359.6 L599.2 362.6 L599.4 362.2 L599.7 361.3 L599.9 359.8 L600.1 362.5 L600.3 362.2 L600.5 361.8 L600.7 362.1 L600.9 361.6 L601.1 363.3 L601.3 363.1 L601.6 365.8 L601.8 365.0 L602.0 362.2 L602.2 359.9 L602.4 363.5 L602.6 361.1 L602.8 365.2 L603.0 359.4 L603.2 361.5 L603.4 365.3 L603.6 362.3 L603.8 363.7 L604.0 363.6 L604.2 361.3 L604.5 363.9 L604.7 360.6 L604.9 361.6 L605.1 366.4 L605.3 361.9 L605.5 363.0 L605.7 360.2 L605.9 364.9 L606.1 360.5 L606.3 360.8 L606.5 361.1 L606.7 360.4 L606.9 359.5 L607.1 361.7 L607.3 361.3 L607.5 362.1 L607.7 360.3 L607.9 360.5 L608.1 361.6 L608.3 362.2 L608.5 360.4 L608.7 362.2 L608.9 361.8 L609.1 364.3 L609.3 363.4 L609.5 363.2 L609.7 364.2 L609.9 361.0 L610.1 364.8 L610.3 362.6 L610.5 361.3 L610.7 363.0 L610.9 360.2 L611.1 365.6 L611.3 362.7 L611.4 359.4 L611.6 360.1 L611.8 361.3 L612.0 361.2 L612.2 363.1 L612.4 363.9 L612.6 364.2 L612.8 363.3 L613.0 360.4 L613.2 364.4 L613.4 364.6 L613.6 358.5 L613.8 361.1 L614.0 361.5 L614.1 360.7 L614.3 364.2 L614.5 363.1 L614.7 362.3 L614.9 359.9 L615.1 358.3 L615.3 360.4 L615.5 360.6 L615.7 360.5 L615.9 358.2 L616.0 359.3 L616.2 361.4 L616.4 362.8 L616.6 361.2 L616.8 361.7 L617.0 362.0 L617.2 362.0 L617.3 364.5 L617.5 360.7 L617.7 362.6 L617.9 359.7 L618.1 364.4 L618.3 363.6 L618.5 364.1 L618.6 362.4 L618.8 361.9 L619.0 359.7 L619.2 362.8 L619.4 364.8 L619.6 356.9 L619.7 365.5 L619.9 360.6 L620.1 363.1 L620.3 360.6 L620.5 361.9 L620.7 363.7 L620.8 361.8 L621.0 365.6 L621.2 362.3 L621.4 363.4 L621.6 361.0 L621.7 361.2 L621.9 361.4 L622.1 363.1 L622.3 365.3 L622.5 362.3 L622.6 359.8 L622.8 361.0 L623.0 359.6 L623.2 363.1 L623.3 362.2 L623.5 360.2 L623.7 361.5 L623.9 364.0 L624.0 363.1 L624.2 361.1 L624.4 363.6 L624.6 362.9 L624.7 361.2 L624.9 362.5 L625.1 365.7 L625.3 360.1 L625.4 364.1 L625.6 361.9 L625.8 363.4 L626.0 363.0 L626.1 362.7 L626.3 361.9 L626.5 362.2 L626.7 363.5 L626.8 363.1 L627.0 359.4 L627.2 363.1 L627.3 364.7 L627.5 363.9 L627.7 362.6 L627.9 358.8 L628.0 363.3 L628.2 363.4 L628.4 365.0 L628.5 360.4 L628.7 361.8 L628.9 361.2 L629.0 361.7 L629.2 358.9 L629.4 361.3 L629.6 361.4 L629.7 361.5 L629.9 365.2 L630.1 361.0 L630.2 361.3 L630.4 364.3 L630.6 361.1 L630.7 364.4 L630.9 363.0 L631.1 361.0 L631.2 360.8 L631.4 362.4 L631.6 361.8 L631.7 362.4 L631.9 361.1 L632.0 363.3 L632.2 360.9 L632.4 361.3 L632.5 361.8 L632.7 359.8 L632.9 361.6 L633.0 361.8 L633.2 359.5 L633.4 358.8 L633.5 364.5 L633.7 361.7 L633.8 361.9 L634.0 361.0 L634.2 365.1 L634.3 361.8 L634.5 358.8 L634.6 363.1 L634.8 360.3 L635.0 363.0 L635.1 361.9 L635.3 364.5 L635.4 363.1 L635.6 361.5 L635.8 364.8 L635.9 367.3 L636.1 361.2 L636.2 364.2 L636.4 362.9 L636.6 363.0 L636.7 359.9 L636.9 360.4 L637.0 364.8 L637.2 362.5 L637.3 361.2 L637.5 365.6 L637.6 364.5 L637.8 363.6 L638.0 360.4 L638.1 362.2 L638.3 365.0 L638.4 358.4 L638.6 359.2 L638.7 360.7 L638.9 364.0 L639.0 362.6 L639.2 363.1 L639.4 362.6 L639.5 362.4 L639.7 364.5 L639.8 369.0 L640.0 363.1 L640.1 364.7 L640.3 361.4 L640.4 365.2 L640.6 362.4 L640.7 362.6 L640.9 361.4 L641.0 360.8 L641.2 361.2 L641.3 360.4 L641.5 359.8 L641.6 365.7 L641.8 363.1 L641.9 364.1 L642.1 363.2 L642.2 359.6 L642.4 362.3 L642.5 360.6 L642.7 360.7 L642.8 362.0 L643.0 362.5 L643.1 362.4 L643.3 362.5 L643.4 361.7 L643.6 362.3 L643.7 364.6 L643.9 366.3 L644.0 364.3 L644.2 361.8 L644.3 363.0 L644.4 364.0 L644.6 364.1 L644.7 364.5 L644.9 364.6 L645.0 363.0 L645.2 361.7 L645.3 359.3 L645.5 364.2 L645.6 363.4 L645.7 360.6 L645.9 362.2 L646.0 361.5 L646.2 361.4 L646.3 365.5 L646.5 361.5 L646.6 366.8 L646.8 362.0 L646.9 360.9 L647.0 362.5 L647.2 366.7 L647.3 361.9 L647.5 363.2 L647.6 358.0 L647.7 363.3 L647.9 359.6 L648.0 362.0 L648.2 364.8 L648.3 361.7 L648.4 363.5 L648.6 361.8 L648.7 361.6 L648.9 362.7 L649.0 364.2 L649.1 362.4 L649.3 362.2 L649.4 360.4 L649.6 359.0 L649.7 362.4 L649.8 361.9 L650.0 362.7 L650.1 364.1 L650.3 363.7 L650.4 360.5 L650.5 362.7 L650.7 362.7 L650.8 361.7 L650.9 358.0 L651.1 360.7 L651.2 362.0 L651.3 363.6 L651.5 361.6 L651.6 359.6 L651.8 364.7 L651.9 362.1 L652.0 361.3 L652.2 363.2 L652.3 363.5 L652.4 362.0 L652.6 361.1 L652.7 361.1 L652.8 363.7 L653.0 361.9 L653.1 363.1 L653.2 358.6 L653.4 361.2 L653.5 361.4 L653.6 361.3 L653.8 358.5 L653.9 361.3 L654.0 365.1 L654.2 362.7 L654.3 361.2 L654.4 360.8 L654.5 359.6 L654.7 362.6 L654.8 360.7 L654.9 361.4 L655.1 363.8 L655.2 363.9 L655.3 363.3 L655.5 359.0 L655.6 361.1 L655.7 364.3 L655.8 359.9 L656.0 364.5 L656.1 362.1 L656.2 363.9 L656.4 361.4 L656.5 360.0 L656.6 360.2 L656.7 364.8 L656.9 361.5 L657.0 359.8 L657.1 363.6 L657.3 359.3 L657.4 361.8 L657.5 362.8 L657.6 362.7 L657.8 362.9 L657.9 362.0 L658.0 357.5 L658.1 362.6 L658.3 362.0 L658.4 361.8 L658.5 363.0 L658.6 363.5 L658.8 362.5 L658.9 364.9 L659.0 366.2 L659.1 362.7 L659.3 361.5 L659.4 359.7 L659.5 363.2 L659.6 358.8 L659.8 365.2 L659.9 363.9 L660.0 361.1 L660.1 363.4 L660.3 360.5 L660.4 360.1 L660.5 363.5 L660.6 360.2 L660.7 362.6 L660.9 361.9 L661.0 365.0 L661.1 362.7 L661.2 365.0 L661.4 363.7 L661.5 360.7 L661.6 360.0 L661.7 358.2 L661.8 362.2 L662.0 357.0 L662.1 360.6 L662.1 357.6"/>
<path stroke="#0000ff" d="M166.1 196.4 L167.4 197.2 L168.8 197.9 L170.1 198.6 L171.4 199.2 L172.7 199.9 L174.0 200.5 L175.2 201.0 L176.5 201.5 L177.7 202.1 L179.0 202.6 L180.2 203.1 L181.4 203.7 L182.6 204.3 L183.8 204.8 L185.0 205.4 L186.2 206.0 L187.3 206.6 L188.5 207.2 L189.6 207.8 L190.7 208.5 L191.9 209.1 L193.0 209.8 L194.1 210.6 L195.2 211.4 L196.3 212.3 L197.3 213.2 L198.4 214.1 L199.5 215.1 L200.5 216.1 L201.6 217.1 L202.6 218.2 L203.6 219.4 L204.6 220.6 L205.7 221.7 L206.7 222.9 L207.7 224.1 L208.6 225.3 L209.6 226.5 L210.6 227.8 L211.6 229.1 L212.5 230.4 L213.5 231.6 L214.4 232.6 L215.4 233.5 L216.3 234.2 L217.2 234.9 L218.2 235.6 L219.1 236.2 L220.0 236.8 L220.9 237.3 L221.8 237.8 L222.7 238.3 L223.6 238.7 L224.4 239.2 L225.3 239.6 L226.2 239.9 L227.0 240.3 L227.9 240.7 L228.8 241.0 L229.6 241.3 L230.4 241.7 L231.3 242.1 L232.1 242.4 L232.9 242.8 L233.8 243.2 L234.6 243.6 L235.4 243.9 L236.2 244.3 L237.0 244.7 L237.8 245.1 L238.6 245.5 L239.4 246.0 L240.1 246.5 L240.9 247.0 L241.7 247.5 L242.5 248.0 L243.2 248.6 L244.0 249.1 L244.7 249.7 L245.5 250.3 L246.2 250.8 L247.0 251.4 L247.7 252.0 L248.5 252.6 L249.2 253.2 L249.9 253.8 L250.6 254.4 L251.4 255.0 L252.1 255.6 L252.8 256.2 L253.5 256.8 L254.2 257.3 L254.9 257.8 L255.6 258.3 L256.3 258.8 L257.0 259.3 L257.7 259.8 L258.3 260.3 L259.0 260.7 L259.7 261.1 L260.4 261.5 L261.7 262.3 L263.0 263.0 L264.3 263.6 L265.6 264.3 L266.9 264.9 L268.2 265.5 L269.4 266.1 L270.7 266.7 L271.9 267.3 L273.1 267.9 L274.4 268.4 L275.6 269.0 L276.8 269.6 L277.9 270.1 L279.1 270.7 L280.3 271.2 L281.4 271.7 L282.6 272.3 L283.7 272.8 L284.8 273.3 L285.9 273.8 L287.0 274.3 L288.1 274.7 L289.2 275.2 L290.3 275.7 L291.4 276.1 L292.4 276.6 L293.5 277.0 L294.5 277.5 L295.5 277.9 L296.6 278.3 L297.6 278.7 L298.6 279.2 L299.6 279.6 L300.6 280.0 L301.6 280.4 L302.6 280.8 L303.6 281.2 L304.5 281.6 L305.5 282.0 L306.4 282.3 L307.4 282.6 L308.3 283.1 L309.3 283.6 L310.2 283.8 L311.1 284.2 L312.0 284.6 L312.9 284.9 L313.8 285.3 L314.7 285.7 L315.6 286.1 L316.5 286.4 L317.4 286.8 L318.3 287.1 L319.1 287.5 L320.0 287.8 L320.9 288.2 L321.7 288.5 L322.5 288.9 L323.4 289.3 L324.2 289.7 L325.1 290.1 L325.9 290.3 L326.7 290.6 L327.5 291.0 L328.3 291.4 L329.1 291.6 L329.9 292.0 L330.7 292.3 L331.5 292.6 L332.3 293.0 L333.1 293.3 L333.9 293.7 L334.6 293.9 L335.4 294.1 L336.2 294.7 L336.9 295.1 L337.7 295.2 L338.4 295.7 L339.2 296.0 L339.9 296.1 L340.7 296.7 L341.4 296.6 L342.1 297.2 L342.9 297.7 L343.6 297.7 L344.3 298.5 L345.0 298.5 L345.7 299.1 L346.4 299.2 L347.1 299.7 L347.8 299.9 L348.5 300.6 L349.2 300.7 L349.9 301.1 L350.6 301.4 L351.3 301.6 L352.0 301.9 L352.6 302.3 L353.3 302.8 L354.0 303.1 L354.6 303.4 L355.3 303.6 L356.0 304.1 L356.6 304.1 L357.3 304.6 L357.9 304.5 L358.6 305.1 L359.2 305.5 L359.9 305.6 L360.5 306.0 L361.1 306.8 L361.8 307.0 L362.4 307.5 L363.0 307.9 L363.6 308.1 L364.3 308.5 L364.9 308.7 L365.5 309.3 L366.1 308.8 L366.7 309.6 L367.3 310.2 L367.9 310.5 L368.5 310.7 L369.1 310.9 L369.7 311.6 L370.3 311.6 L370.9 311.7 L371.5 312.8 L372.1 312.6 L372.6 313.1 L373.2 312.9 L373.8 312.9 L374.4 314.3 L374.9 315.1 L375.5 314.0 L376.1 315.0 L376.6 315.7 L377.2 316.0 L377.8 316.3 L378.3 316.6 L378.9 316.6 L379.4 317.7 L380.0 318.0 L380.5 318.2 L381.1 317.5 L381.6 319.4 L382.2 319.1 L382.7 319.7 L383.2 320.6 L383.8 320.7 L384.3 320.5 L384.8 321.3 L385.4 321.5 L385.9 321.3 L386.4 322.0 L386.9 321.5 L387.5 321.9 L388.0 323.1 L388.5 324.0 L389.0 323.2 L389.5 324.6 L390.0 324.4 L390.5 325.5 L391.0 324.9 L391.6 326.8 L392.1 326.0 L392.6 326.0 L393.1 326.6 L393.6 325.9 L394.1 327.3 L394.5 327.3 L395.0 328.1 L395.5 328.0 L396.0 327.1 L396.5 327.5 L397.0 328.8 L397.5 328.8 L398.0 330.3 L398.4 329.6 L398.9 330.7 L399.4 330.7 L399.9 331.9 L400.3 331.4 L400.8 331.8 L401.3 331.4 L401.7 332.5 L402.2 332.9 L402.7 332.8 L403.1 333.5 L403.6 332.8 L404.1 333.6 L404.5 334.2 L405.0 334.1 L405.4 335.3 L405.9 335.2 L406.3 334.7 L406.8 334.7 L407.2 335.6 L407.7 335.4 L408.1 335.8 L408.6 335.6 L409.0 337.1 L409.5 336.9 L409.9 337.2 L410.3 337.8 L410.8 335.9 L411.2 337.7 L411.6 337.7 L412.1 338.6 L412.5 338.7 L412.9 338.9 L413.4 339.7 L413.8 337.5 L414.2 338.3 L414.7 340.2 L415.1 340.6 L415.5 339.0 L415.9 340.7 L416.3 340.7 L416.8 339.1 L417.2 339.8 L417.6 340.7 L418.0 340.6 L418.4 342.2 L418.8 341.4 L419.2 341.8 L419.6 340.7 L420.1 340.4 L420.5 341.0 L420.9 342.8 L421.3 343.3 L421.7 341.2 L422.1 341.9 L422.5 340.0 L422.9 343.4 L423.3 341.3 L423.7 343.3 L424.1 343.7 L424.5 341.6 L424.9 342.1 L425.3 343.6 L425.6 344.3 L426.0 342.7 L426.4 342.3 L426.8 343.6 L427.2 344.6 L427.6 342.5 L428.0 342.8 L428.4 344.7 L428.7 343.9 L429.1 343.0 L429.5 343.8 L429.9 344.3 L430.2 344.9 L430.5 344.2 L430.9 344.0 L431.2 342.4 L431.5 344.6 L431.9 344.6 L432.2 344.3 L432.5 344.1 L432.8 344.3 L433.2 345.1 L433.5 343.9 L433.8 343.1 L434.2 345.1 L434.5 343.9 L434.8 344.1 L435.1 344.8 L435.5 344.1 L435.8 344.3 L436.1 343.3 L436.5 345.7 L436.8 343.2 L437.1 345.8 L437.4 343.3 L437.8 343.9 L438.1 344.2 L438.4 345.5 L438.8 344.8 L439.1 344.2 L439.4 343.4 L439.7 345.7 L440.1 344.7 L440.4 345.1 L440.7 344.6 L441.0 344.3 L441.4 345.4 L441.7 345.1 L442.0 346.0 L442.4 345.0 L442.7 343.4 L443.0 345.6 L443.3 344.9 L443.7 344.7 L444.0 341.8 L444.3 344.0 L444.6 345.1 L445.0 344.3 L445.3 345.2 L445.6 345.6 L445.9 345.0 L446.3 344.0 L446.6 345.4 L446.9 345.4 L447.2 344.8 L447.6 343.1 L447.9 343.8 L448.2 345.9 L448.5 344.8 L448.9 343.2 L449.2 344.9 L449.5 345.1 L449.8 345.7 L450.2 345.5 L450.5 345.5 L450.8 344.3 L451.1 343.4 L451.5 344.5 L451.8 346.5 L452.1 343.5 L452.4 346.1 L452.8 343.6 L453.1 343.8 L453.4 345.2 L453.7 344.3 L454.1 344.9 L454.4 343.9 L454.7 345.3 L455.0 346.1 L455.4 343.6 L455.7 345.7 L456.0 345.6 L456.3 346.0 L456.6 342.8 L457.0 346.1 L457.3 344.0 L457.6 344.9 L457.9 344.7 L458.3 344.1 L458.6 344.3 L458.9 344.4 L459.2 345.4 L459.5 346.0 L459.9 344.9 L460.2 346.1 L460.5 345.4 L460.8 346.5 L461.2 343.8 L461.5 345.4 L461.8 345.2 L462.1 345.4 L462.4 345.6 L462.8 346.1 L463.1 345.4 L463.4 345.8 L463.7 345.0 L464.0 345.1 L464.4 344.6 L464.7 346.5 L465.0 346.1 L465.3 346.7 L465.6 344.8 L466.0 345.1 L466.3 348.0 L466.6 346.5 L466.9 343.7 L467.2 346.1 L467.6 345.7 L467.9 345.0 L468.2 345.0 L468.5 344.4 L468.8 344.8 L469.2 344.5 L469.5 344.1 L469.8 344.9 L470.1 344.4 L470.4 346.1 L470.8 346.5 L471.1 345.2 L471.4 345.0 L471.7 346.1 L472.0 345.2 L472.4 347.6 L472.7 342.4 L473.0 342.8 L473.3 344.1 L473.6 345.9 L473.9 346.3 L474.3 344.9 L474.6 345.4 L474.9 345.1 L475.2 345.9 L475.5 347.7 L475.9 342.8 L476.2 347.9 L476.5 346.6 L476.8 345.1 L477.1 346.0 L477.4 345.4 L477.8 346.0 L478.1 346.0 L478.4 346.3 L478.7 344.3 L479.0 346.1 L479.3 344.7 L479.7 345.1 L480.0 346.3 L480.3 344.9 L480.6 345.8 L480.9 345.8 L481.2 345.6 L481.6 344.0 L481.9 346.0 L482.2 345.7 L482.5 348.0 L482.8 344.2 L483.1 346.7 L483.4 345.0 L483.8 345.1 L484.1 347.5 L484.4 345.3 L484.7 346.4 L485.0 345.6 L485.3 344.4 L485.7 345.2 L486.0 345.0 L486.3 345.2 L486.6 347.7 L486.9 346.0 L487.2 343.4 L487.5 347.7 L487.9 345.9 L488.2 346.5 L488.5 347.3 L488.8 344.5 L489.1 345.9 L489.4 345.3 L489.7 345.1 L490.1 345.1 L490.4 345.6 L490.7 346.9 L491.0 346.4 L491.3 345.8 L491.6 346.9 L491.9 342.7 L492.2 345.5 L492.6 345.9 L492.9 345.9 L493.2 347.2 L493.5 345.7 L493.8 347.1 L494.1 345.3 L494.4 346.3 L494.8 345.6 L495.1 345.2 L495.4 346.1 L495.7 346.2 L496.0 344.4 L496.3 346.7 L496.6 345.2 L496.9 345.6 L497.2 342.3 L497.6 345.5 L497.9 343.2 L498.2 346.6 L498.5 344.6 L498.8 345.0 L499.1 345.3 L499.4 343.9 L499.7 345.5 L500.0 344.0 L500.4 345.3 L500.7 346.6 L501.0 347.1 L501.3 347.3 L501.6 345.2 L501.9 344.3 L502.2 346.1 L502.5 347.4 L502.8 344.4 L503.2 347.2 L503.5 345.3 L503.8 342.3 L504.1 345.6 L504.4 347.8 L504.7 346.4 L505.0 346.8 L505.3 346.0 L505.6 343.4 L505.9 342.6 L506.3 344.2 L506.6 345.0 L506.9 344.3 L507.2 344.5 L507.5 346.5 L507.8 347.3 L508.1 343.4 L508.4 344.2 L508.7 345.4 L509.0 345.3 L509.3 342.6 L509.6 349.2 L510.0 346.4 L510.3 346.0 L510.6 343.1 L510.9 345.9 L511.2 344.0 L511.5 346.1 L511.8 345.9 L512.1 345.6 L512.4 346.1 L512.7 344.8 L513.0 345.7 L513.3 342.5 L513.6 346.4 L514.0 345.3 L514.3 348.7 L514.6 345.6 L514.9 342.5 L515.2 347.5 L515.5 344.6 L515.8 344.1 L516.1 345.4 L516.4 347.1 L516.7 348.0 L517.0 345.0 L517.3 345.8 L517.6 345.8 L517.9 344.7 L518.2 344.9 L518.6 345.3 L518.9 345.4 L519.2 346.9 L519.5 343.0 L519.8 346.1 L520.1 346.0 L520.4 347.3 L520.7 345.0 L521.0 345.0 L521.3 345.6 L521.6 344.8 L521.9 344.7 L522.2 344.6 L522.5 344.6 L522.8 344.2 L523.1 344.7 L523.4 344.5 L523.7 344.5 L524.0 343.7 L524.3 346.7 L524.7 345.9 L525.0 345.4 L525.3 344.1 L525.6 346.3 L525.9 345.2 L526.2 345.3 L526.5 345.6 L526.8 345.3 L527.1 346.8 L527.4 344.4 L527.7 344.6 L528.0 345.7 L528.3 345.2 L528.6 346.2 L528.9 346.7 L529.2 347.3 L529.5 346.7 L529.8 345.1 L530.1 345.3 L530.4 345.0 L530.7 347.0 L531.0 345.2 L531.3 344.4 L531.6 344.1 L531.9 346.5 L532.2 344.3 L532.5 342.0 L532.8 346.4 L533.1 345.9 L533.4 346.5 L533.7 346.8 L534.0 346.2 L534.3 346.0 L534.6 345.6 L534.9 344.5 L535.3 342.7 L535.6 342.9 L535.9 346.0 L536.2 346.6 L536.5 345.5 L536.8 344.5 L537.1 346.4 L537.4 345.5 L537.7 345.5 L538.0 345.0 L538.3 343.9 L538.6 344.1 L538.9 346.0 L539.2 347.7 L539.5 347.9 L539.8 345.3 L540.1 346.1 L540.4 345.4 L540.7 345.7 L541.0 346.1 L541.3 346.7 L541.6 344.0 L541.9 347.9 L542.2 345.3 L542.4 344.2 L542.7 348.7 L543.0 344.3 L543.3 345.5 L543.6 344.5 L543.9 347.1 L544.2 341.8 L544.5 346.0 L544.8 343.3 L545.1 347.7 L545.4 348.4 L545.7 346.7 L546.0 344.4 L546.3 347.1 L546.6 348.6 L546.8 345.9 L547.1 345.0 L547.4 347.6 L547.7 343.7 L548.0 345.1 L548.3 345.4 L548.6 345.7 L548.9 347.1 L549.2 345.3 L549.4 344.0 L549.7 343.5 L550.0 345.3 L550.3 346.2 L550.6 346.9 L550.9 346.4 L551.2 343.6 L551.4 346.3 L551.7 344.6 L552.0 347.3 L552.3 345.1 L552.6 345.1 L552.8 344.7 L553.1 346.9 L553.4 345.4 L553.7 349.4 L554.0 347.2 L554.2 343.9 L554.5 345.5 L554.8 347.0 L555.1 346.6 L555.4 346.4 L555.6 345.9 L555.9 343.3 L556.2 343.4 L556.5 346.7 L556.7 344.6 L557.0 345.6 L557.3 346.4 L557.6 342.8 L557.8 342.8 L558.1 346.3 L558.4 344.7 L558.7 345.0 L558.9 347.2 L559.2 345.1 L559.5 345.4 L559.8 345.9 L560.0 343.0 L560.3 348.0 L560.6 346.1 L560.8 344.7 L561.1 347.2 L561.4 344.2 L561.6 344.5 L561.9 343.7 L562.2 345.2 L562.4 344.4 L562.7 345.9 L563.0 344.5 L563.2 345.9 L563.5 346.1 L563.8 346.1 L564.0 346.1 L564.3 345.6 L564.6 344.3 L564.8 342.6 L565.1 346.0 L565.4 343.4 L565.6 346.0 L565.9 345.4 L566.1 345.4 L566.4 345.5 L566.7 346.3 L566.9 344.0 L567.2 346.0 L567.4 347.1 L567.7 346.7 L568.0 347.1 L568.2 345.1 L568.5 345.4 L568.7 348.3 L569.0 346.2 L569.3 345.9 L569.5 347.0 L569.8 344.2 L570.0 345.3 L570.3 346.2 L570.5 345.4 L570.8 347.8 L571.0 346.1 L571.3 346.8 L571.6 344.2 L571.8 345.5 L572.1 345.5 L572.3 346.3 L572.6 346.2 L572.8 345.5 L573.1 346.4 L573.3 348.7 L573.6 345.5 L573.8 344.5 L574.1 347.3 L574.3 347.7 L574.6 345.8 L574.8 347.0 L575.1 342.4 L575.3 346.2 L575.6 345.2 L575.8 348.9 L576.1 345.9 L576.3 348.3 L576.6 345.2 L576.8 345.1 L577.0 344.7 L577.3 343.7 L577.5 344.6 L577.8 347.2 L578.0 343.2 L578.3 345.7 L578.5 347.2 L578.8 345.9 L579.0 346.3 L579.2 346.0 L579.5 346.3 L579.7 342.6 L580.0 347.8 L580.2 346.1 L580.4 344.7 L580.7 345.1 L580.9 345.3 L581.2 346.6 L581.4 343.7 L581.6 343.6 L581.9 343.5 L582.1 346.9 L582.4 344.1 L582.6 345.7 L582.8 343.7 L583.1 345.4 L583.3 344.8 L583.5 344.4 L583.8 347.3 L584.0 345.7 L584.2 344.0 L584.5 349.3 L584.7 344.1 L585.0 343.7 L585.2 342.9 L585.4 348.1 L585.7 345.9 L585.9 346.1 L586.1 347.3 L586.3 345.7 L586.6 346.7 L586.8 348.2 L587.0 345.9 L587.3 346.8 L587.5 345.9 L587.7 345.8 L588.0 347.8 L588.2 346.5 L588.4 346.0 L588.6 342.6 L588.9 344.1 L589.1 344.5 L589.3 345.5 L589.6 346.2 L589.8 345.8 L590.0 345.3 L590.2 346.1 L590.5 346.1 L590.7 347.0 L590.9 342.7 L591.1 347.2 L591.4 348.7 L591.6 347.4 L591.8 344.9 L592.0 344.1 L592.3 345.5 L592.5 347.7 L592.7 346.0 L592.9 342.3 L593.1 340.3 L593.4 345.9 L593.6 349.4 L593.8 343.0 L594.0 344.5 L594.3 345.6 L594.5 346.0 L594.7 346.9 L594.9 342.9 L595.1 345.7 L595.4 344.4 L595.6 346.8 L595.8 346.1 L596.0 347.3 L596.2 343.5 L596.4 343.7 L596.7 344.3 L596.9 344.7 L597.1 344.3 L597.3 343.4 L597.5 344.5 L597.7 342.8 L597.9 347.1 L598.2 344.7 L598.4 343.4 L598.6 345.7 L598.8 342.8 L599.0 346.0 L599.2 344.9 L599.4 348.3 L599.7 346.3 L599.9 344.2 L600.1 346.9 L600.3 345.6 L600.5 346.5 L600.7 340.4 L600.9 344.7 L601.1 344.7 L601.3 347.6 L601.6 343.6 L601.8 346.0 L602.0 345.1 L602.2 343.1 L602.4 344.5 L602.6 346.3 L602.8 345.1 L603.0 345.1 L603.2 345.3 L603.4 345.6 L603.6 345.9 L603.8 345.3 L604.0 343.0 L604.2 345.1 L604.5 345.6 L604.7 348.1 L604.9 343.7 L605.1 348.0 L605.3 344.5 L605.5 348.0 L605.7 342.0 L605.9 344.9 L606.1 341.5 L606.3 343.0 L606.5 344.7 L606.7 346.2 L606.9 344.1 L607.1 345.8 L607.3 344.0 L607.5 348.1 L607.7 344.4 L607.9 348.6 L608.1 348.4 L608.3 343.9 L608.5 346.3 L608.7 344.6 L608.9 347.8 L609.1 345.9 L609.3 348.4 L609.5 345.1 L609.7 344.9 L609.9 344.1 L610.1 345.6 L610.3 346.1 L610.5 345.5 L610.7 345.9 L610.9 346.6 L611.1 345.2 L611.3 344.3 L611.4 343.7 L611.6 344.4 L611.8 344.8 L612.0 347.1 L612.2 346.9 L612.4 344.2 L612.6 346.4 L612.8 343.9 L613.0 346.8 L613.2 342.7 L613.4 347.0 L613.6 345.1 L613.8 345.8 L614.0 345.2 L614.1 343.6 L614.3 345.6 L614.5 345.4 L614.7 346.7 L614.9 346.5 L615.1 347.5 L615.3 346.3 L615.5 343.5 L615.7 346.7 L615.9 343.4 L616.0 344.2 L616.2 345.5 L616.4 344.0 L616.6 344.7 L616.8 347.1 L617.0 344.4 L617.2 343.9 L617.3 343.2 L617.5 350.2 L617.7 344.7 L617.9 345.5 L618.1 345.5 L618.3 347.3 L618.5 344.5 L618.6 343.9 L618.8 344.8 L619.0 344.1 L619.2 343.0 L619.4 342.2 L619.6 345.5 L619.7 344.7 L619.9 347.8 L620.1 344.5 L620.3 344.8 L620.5 347.5 L620.7 342.6 L620.8 346.8 L621.0 344.0 L621.2 343.5 L621.4 346.1 L621.6 345.6 L621.7 343.5 L621.9 345.8 L622.1 348.1 L622.3 346.8 L622.5 345.6 L622.6 344.5 L622.8 345.3 L623.0 346.2 L623.2 345.0 L623.3 346.2 L623.5 347.1 L623.7 342.9 L623.9 345.7 L624.0 346.3 L624.2 345.0 L624.4 344.3 L624.6 348.0 L624.7 345.3 L624.9 345.3 L625.1 344.5 L625.3 344.9 L625.4 344.9 L625.6 345.2 L625.8 342.9 L626.0 342.7 L626.1 344.4 L626.3 344.8 L626.5 344.4 L626.7 346.6 L626.8 345.4 L627.0 346.6 L627.2 345.8 L627.3 341.6 L627.5 346.2 L627.7 347.9 L627.9 345.7 L628.0 345.3 L628.2 343.4 L628.4 345.8 L628.5 343.6 L628.7 342.4 L628.9 345.8 L629.0 346.8 L629.2 344.9 L629.4 345.1 L629.6 344.3 L629.7 348.1 L629.9 346.1 L630.1 344.8 L630.2 344.9 L630.4 345.6 L630.6 347.3 L630.7 344.5 L630.9 343.9 L631.1 345.9 L631.2 345.2 L631.4 342.9 L631.6 345.2 L631.7 344.9 L631.9 344.7 L632.0 345.6 L632.2 345.8 L632.4 348.3 L632.5 346.5 L632.7 346.8 L632.9 344.6 L633.0 345.4 L633.2 344.2 L633.4 344.2 L633.5 346.8 L633.7 349.1 L633.8 346.6 L634.0 346.1 L634.2 346.3 L634.3 346.8 L634.5 345.3 L634.6 345.3 L634.8 346.5 L635.0 348.1 L635.1 345.5 L635.3 342.5 L635.4 346.7 L635.6 345.7 L635.8 344.0 L635.9 343.9 L636.1 339.9 L636.2 344.1 L636.4 345.0 L636.6 346.3 L636.7 345.3 L636.9 343.7 L637.0 344.7 L637.2 345.5 L637.3 346.4 L637.5 345.9 L637.6 346.9 L637.8 342.1 L638.0 345.7 L638.1 345.9 L638.3 343.8 L638.4 345.7 L638.6 344.5 L638.7 343.3 L638.9 343.2 L639.0 346.3 L639.2 346.4 L639.4 347.3 L639.5 346.7 L639.7 346.2 L639.8 343.6 L640.0 345.1 L640.1 344.9 L640.3 348.9 L640.4 343.9 L640.6 343.2 L640.7 343.7 L640.9 347.2 L641.0 344.3 L641.2 346.7 L641.3 344.5 L641.5 347.2 L641.6 342.7 L641.8 344.6 L641.9 346.4 L642.1 345.0 L642.2 343.9 L642.4 347.9 L642.5 343.0 L642.7 343.9 L642.8 347.4 L643.0 348.4 L643.1 345.4 L643.3 343.2 L643.4 343.2 L643.6 343.9 L643.7 345.3 L643.9 347.7 L644.0 347.0 L644.2 347.1 L644.3 344.5 L644.4 346.7 L644.6 346.8 L644.7 346.9 L644.9 345.4 L645.0 344.7 L645.2 347.4 L645.3 348.2 L645.5 345.0 L645.6 346.0 L645.7 347.3 L645.9 348.1 L646.0 348.5 L646.2 345.5 L646.3 347.7 L646.5 343.3 L646.6 341.6 L646.8 344.7 L646.9 346.0 L647.0 342.8 L647.2 345.2 L647.3 345.7 L647.5 345.4 L647.6 345.9 L647.7 347.4 L647.9 345.0 L648.0 344.6 L648.2 346.4 L648.3 347.3 L648.4 344.7 L648.6 347.8 L648.7 346.7 L648.9 344.8 L649.0 345.4 L649.1 344.0 L649.3 346.6 L649.4 345.6 L649.6 348.9 L649.7 340.9 L649.8 343.3 L650.0 344.5 L650.1 346.3 L650.3 344.8 L650.4 344.2 L650.5 346.2 L650.7 344.7 L650.8 345.8 L650.9 347.0 L651.1 347.1 L651.2 342.7 L651.3 344.1 L651.5 346.2 L651.6 345.1 L651.8 344.1 L651.9 346.5 L652.0 345.6 L652.2 346.2 L652.3 347.0 L652.4 344.8 L652.6 347.2 L652.7 345.7 L652.8 345.9 L653.0 347.2 L653.1 342.6 L653.2 342.5 L653.4 343.4 L653.5 346.9 L653.6 345.6 L653.8 344.5 L653.9 343.6 L654.0 342.5 L654.2 345.9 L654.3 345.4 L654.4 346.1 L654.5 347.0 L654.7 345.9 L654.8 347.8 L654.9 344.7 L655.1 348.0 L655.2 346.2 L655.3 344.5 L655.5 345.7 L655.6 349.2 L655.7 343.2 L655.8 344.4 L656.0 344.7 L656.1 345.7 L656.2 345.5 L656.4 348.7 L656.5 345.1 L656.6 346.6 L656.7 344.5 L656.9 343.5 L657.0 345.1 L657.1 345.0 L657.3 346.6 L657.4 347.7 L657.5 344.6 L657.6 347.3 L657.8 343.6 L657.9 348.5 L658.0 342.8 L658.1 344.5 L658.3 345.8 L658.4 344.7 L658.5 343.4 L658.6 346.6 L658.8 343.6 L658.9 347.1 L659.0 342.8 L659.1 347.2 L659.3 346.8 L659.4 346.3 L659.5 347.2 L659.6 345.0 L659.8 345.3 L659.9 347.4 L660.0 343.6 L660.1 344.9 L660.3 345.0 L660.4 345.0 L660.5 344.9 L660.6 341.1 L660.7 345.3 L660.9 345.8 L661.0 347.5 L661.1 346.7 L661.2 344.3 L661.4 344.9 L661.5 343.7 L661.6 344.7 L661.7 344.3 L661.8 347.2 L662.0 346.0 L662.1 346.4 L662.1 344.7"/>
<path stroke="#ff00ff" d="M74.5 76.7 L77.1 77.8 L79.7 78.8 L82.3 79.8 L84.8 80.9 L87.3 81.9 L89.7 82.9 L92.0 83.9 L94.4 84.9 L96.7 85.9 L98.9 86.9 L101.1 87.9 L103.3 88.9 L105.5 89.9 L107.6 91.0 L109.7 92.1 L111.7 93.2 L113.7 94.4 L115.7 95.7 L117.7 97.1 L119.6 98.5 L121.5 99.9 L123.4 101.4 L125.2 102.9 L127.0 104.5 L128.8 106.2 L130.6 107.9 L132.4 109.7 L134.1 111.5 L135.8 113.4 L137.5 115.4 L139.2 117.6 L140.8 120.1 L142.4 123.0 L144.0 126.2 L145.6 129.5 L147.2 132.9 L148.7 136.3 L150.3 139.9 L151.8 144.3 L153.3 150.2 L154.8 157.8 L156.2 165.5 L157.7 173.6 L159.1 180.0 L160.5 185.5 L161.9 190.0 L163.3 193.6 L164.7 195.4 L166.1 196.4 L167.4 197.2 L168.8 197.9 L170.1 198.6 L171.4 199.2 L172.7 199.8 L174.0 200.4 L175.2 201.0 L176.5 201.5 L177.7 202.0 L179.0 202.5 L180.2 203.0 L181.4 203.6 L182.6 204.1 L183.8 204.7 L185.0 205.3 L186.2 205.9 L187.3 206.4 L188.5 207.0 L189.6 207.7 L190.7 208.3 L191.9 209.0 L193.0 209.7 L194.1 210.4 L195.2 211.3 L196.3 212.1 L197.3 213.0 L198.4 214.0 L199.5 214.9 L200.5 215.9 L201.6 216.9 L202.6 218.0 L203.6 219.2 L204.6 220.3 L205.7 221.5 L206.7 222.7 L207.7 223.8 L208.6 225.0 L209.6 226.3 L210.6 227.6 L211.6 228.9 L212.5 230.1 L213.5 231.3 L214.4 232.3 L215.4 233.2 L216.3 233.9 L217.2 234.6 L218.2 235.2 L219.1 235.8 L220.0 236.3 L220.9 236.8 L221.8 237.3 L222.7 237.7 L223.6 238.1 L224.4 238.5 L225.3 238.9 L226.2 239.2 L227.0 239.6 L227.9 239.9 L228.8 240.2 L229.6 240.5 L230.4 240.8 L231.3 241.2 L232.1 241.5 L232.9 241.9 L233.8 242.2 L234.6 242.5 L235.4 242.9 L236.2 243.2 L237.0 243.6 L237.8 244.0 L238.6 244.4 L239.4 244.8 L240.1 245.3 L240.9 245.7 L241.7 246.2 L242.5 246.7 L243.2 247.2 L244.0 247.8 L244.7 248.3 L245.5 248.8 L246.2 249.3 L247.0 249.9 L247.7 250.4 L248.5 251.0 L249.2 251.5 L249.9 252.1 L250.6 252.7 L251.4 253.2 L252.1 253.8 L252.8 254.3 L253.5 254.8 L254.2 255.3 L254.9 255.8 L255.6 256.3 L256.3 256.7 L257.0 257.2 L257.7 257.6 L258.3 258.0 L259.0 258.4 L259.7 258.8 L260.4 259.2 L261.7 259.9 L263.0 260.6 L264.3 261.2 L265.6 261.8 L266.9 262.4 L268.2 263.0 L269.4 263.5 L270.7 264.1 L271.9 264.6 L273.1 265.2 L274.4 265.8 L275.6 266.3 L276.8 266.8 L277.9 267.4 L279.1 267.9 L280.3 268.4 L281.4 268.9 L282.6 269.4 L283.7 269.9 L284.8 270.3 L285.9 270.8 L287.0 271.2 L288.1 271.7 L289.2 272.1 L290.3 272.5 L291.4 273.0 L292.4 273.4 L293.5 273.8 L294.5 274.2 L295.5 274.6 L296.6 275.0 L297.6 275.4 L298.6 275.8 L299.6 276.2 L300.6 276.5 L301.6 276.9 L302.6 277.3 L303.6 277.6 L304.5 278.0 L305.5 278.4 L306.4 278.7 L307.4 279.1 L308.3 279.4 L309.3 279.8 L310.2 280.2 L311.1 280.6 L312.0 280.8 L312.9 281.3 L313.8 281.6 L314.7 281.9 L315.6 282.3 L316.5 282.6 L317.4 283.0 L318.3 283.3 L319.1 283.7 L320.0 284.1 L320.9 284.4 L321.7 284.7 L322.5 285.1 L323.4 285.3 L324.2 285.7 L325.1 286.1 L325.9 286.5 L326.7 286.7 L327.5 287.1 L328.3 287.4 L329.1 287.6 L329.9 288.1 L330.7 288.3 L331.5 288.7 L332.3 289.0 L333.1 289.1 L333.9 289.4 L334.6 289.8 L335.4 290.1 L336.2 290.4 L336.9 290.6 L337.7 291.0 L338.4 291.1 L339.2 291.4 L339.9 291.6 L340.7 292.1 L341.4 292.4 L342.1 292.7 L342.9 292.9 L343.6 292.9 L344.3 293.4 L345.0 293.8 L345.7 294.1 L346.4 294.5 L347.1 294.8 L347.8 294.9 L348.5 295.4 L349.2 295.4 L349.9 295.9 L350.6 295.9 L351.3 296.5 L352.0 296.4 L352.6 297.1 L353.3 297.5 L354.0 297.6 L354.6 298.0 L355.3 298.3 L356.0 298.1 L356.6 298.5 L357.3 299.0 L357.9 299.1 L358.6 299.5 L359.2 300.3 L359.9 300.4 L360.5 300.5 L361.1 300.6 L361.8 301.1 L362.4 301.3 L363.0 301.5 L363.6 302.1 L364.3 301.8 L364.9 302.7 L365.5 302.6 L366.1 303.2 L366.7 303.2 L367.3 303.4 L367.9 303.7 L368.5 304.1 L369.1 304.4 L369.7 305.2 L370.3 305.2 L370.9 305.2 L371.5 305.2 L372.1 305.8 L372.6 306.2 L373.2 306.0 L373.8 306.6 L374.4 307.2 L374.9 307.1 L375.5 307.1 L376.1 307.9 L376.6 308.4 L377.2 308.3 L377.8 308.6 L378.3 309.2 L378.9 309.3 L379.4 309.3 L380.0 309.7 L380.5 310.1 L381.1 310.4 L381.6 311.0 L382.2 310.7 L382.7 311.4 L383.2 311.5 L383.8 311.3 L384.3 312.3 L384.8 312.5 L385.4 312.4 L385.9 312.5 L386.4 313.5 L386.9 314.0 L387.5 313.9 L388.0 314.0 L388.5 314.6 L389.0 314.4 L389.5 314.8 L390.0 315.4 L390.5 315.1 L391.0 316.0 L391.6 316.1 L392.1 316.6 L392.6 315.9 L393.1 317.1 L393.6 317.0 L394.1 317.4 L394.5 317.3 L395.0 317.4 L395.5 318.4 L396.0 318.4 L396.5 318.7 L397.0 319.0 L397.5 319.2 L398.0 318.7 L398.4 319.3 L398.9 319.5 L399.4 320.5 L399.9 320.5 L400.3 320.0 L400.8 320.0 L401.3 321.0 L401.7 321.1 L402.2 321.6 L402.7 321.0 L403.1 322.2 L403.6 321.9 L404.1 322.4 L404.5 322.3 L405.0 322.2 L405.4 322.3 L405.9 323.3 L406.3 321.7 L406.8 323.5 L407.2 323.6 L407.7 323.2 L408.1 324.0 L408.6 323.8 L409.0 323.5 L409.5 324.0 L409.9 324.5 L410.3 324.5 L410.8 324.3 L411.2 325.0 L411.6 325.2 L412.1 325.5 L412.5 325.3 L412.9 325.9 L413.4 325.1 L413.8 325.4 L414.2 325.1 L414.7 325.8 L415.1 326.0 L415.5 326.1 L415.9 325.6 L416.3 326.8 L416.8 325.6 L417.2 326.1 L417.6 325.3 L418.0 327.2 L418.4 327.2 L418.8 326.8 L419.2 327.2 L419.6 326.5 L420.1 326.7 L420.5 326.8 L420.9 327.5 L421.3 327.3 L421.7 327.6 L422.1 327.1 L422.5 327.0 L422.9 328.0 L423.3 328.0 L423.7 328.2 L424.1 327.7 L424.5 328.3 L424.9 327.4 L425.3 327.7 L425.6 328.5 L426.0 327.9 L426.4 327.8 L426.8 328.0 L427.2 329.5 L427.6 328.4 L428.0 328.8 L428.4 328.6 L428.7 330.1 L429.1 328.8 L429.5 329.4 L429.9 329.4 L430.2 329.2 L430.5 328.9 L430.9 328.1 L431.2 329.3 L431.5 330.3 L431.9 329.3 L432.2 330.2 L432.5 329.5 L432.8 329.6 L433.2 328.9 L433.5 329.1 L433.8 329.4 L434.2 329.8 L434.5 328.6 L434.8 328.4 L435.1 329.2 L435.5 329.2 L435.8 329.5 L436.1 330.3 L436.5 329.0 L436.8 330.4 L437.1 329.7 L437.4 329.4 L437.8 328.4 L438.1 330.3 L438.4 330.4 L438.8 329.7 L439.1 329.7 L439.4 329.2 L439.7 328.3 L440.1 329.0 L440.4 328.6 L440.7 328.7 L441.0 329.0 L441.4 329.2 L441.7 329.8 L442.0 330.3 L442.4 329.4 L442.7 330.0 L443.0 329.4 L443.3 329.4 L443.7 329.8 L444.0 329.2 L444.3 329.8 L444.6 329.3 L445.0 329.1 L445.3 329.2 L445.6 330.5 L445.9 329.8 L446.3 329.4 L446.6 329.8 L446.9 329.2 L447.2 329.4 L447.6 329.5 L447.9 328.7 L448.2 329.6 L448.5 329.9 L448.9 329.8 L449.2 329.6 L449.5 330.3 L449.8 329.2 L450.2 330.4 L450.5 330.3 L450.8 329.8 L451.1 330.6 L451.5 329.2 L451.8 329.9 L452.1 329.6 L452.4 329.2 L452.8 329.5 L453.1 330.0 L453.4 330.0 L453.7 330.1 L454.1 329.3 L454.4 329.7 L454.7 329.7 L455.0 329.3 L455.4 329.7 L455.7 328.4 L456.0 329.0 L456.3 329.4 L456.6 329.5 L457.0 330.1 L457.3 329.4 L457.6 330.8 L457.9 328.9 L458.3 330.9 L458.6 329.2 L458.9 329.1 L459.2 329.3 L459.5 329.4 L459.9 329.6 L460.2 329.5 L460.5 330.0 L460.8 330.2 L461.2 329.1 L461.5 330.5 L461.8 329.9 L462.1 329.8 L462.4 330.3 L462.8 329.7 L463.1 330.7 L463.4 329.0 L463.7 330.5 L464.0 329.5 L464.4 330.2 L464.7 329.5 L465.0 330.8 L465.3 330.0 L465.6 330.3 L466.0 329.1 L466.3 328.9 L466.6 330.0 L466.9 330.8 L467.2 329.9 L467.6 328.9 L467.9 330.9 L468.2 329.5 L468.5 330.3 L468.8 329.3 L469.2 329.4 L469.5 330.0 L469.8 328.2 L470.1 329.2 L470.4 329.6 L470.8 329.6 L471.1 328.8 L471.4 330.5 L471.7 329.7 L472.0 329.7 L472.4 328.6 L472.7 329.8 L473.0 330.2 L473.3 330.3 L473.6 330.2 L473.9 329.8 L474.3 329.7 L474.6 329.9 L474.9 330.2 L475.2 329.7 L475.5 329.7 L475.9 330.1 L476.2 329.6 L476.5 330.0 L476.8 329.9 L477.1 329.2 L477.4 330.8 L477.8 330.2 L478.1 329.2 L478.4 329.2 L478.7 329.5 L479.0 329.4 L479.3 329.2 L479.7 329.9 L480.0 329.6 L480.3 329.2 L480.6 330.8 L480.9 329.6 L481.2 330.0 L481.6 328.9 L481.9 329.1 L482.2 329.1 L482.5 330.4 L482.8 330.3 L483.1 329.7 L483.4 329.6 L483.8 330.0 L484.1 329.2 L484.4 329.6 L484.7 330.4 L485.0 329.2 L485.3 330.2 L485.7 329.7 L486.0 329.9 L486.3 329.7 L486.6 330.4 L486.9 330.4 L487.2 330.2 L487.5 328.7 L487.9 329.9 L488.2 330.6 L488.5 329.1 L488.8 328.8 L489.1 329.7 L489.4 330.3 L489.7 329.0 L490.1 330.0 L490.4 329.6 L490.7 329.8 L491.0 330.1 L491.3 329.7 L491.6 329.4 L491.9 329.9 L492.2 330.8 L492.6 330.2 L492.9 330.3 L493.2 329.2 L493.5 329.5 L493.8 328.9 L494.1 330.4 L494.4 330.5 L494.8 330.1 L495.1 330.4 L495.4 329.5 L495.7 329.6 L496.0 330.6 L496.3 329.6 L496.6 330.5 L496.9 331.0 L497.2 329.0 L497.6 329.2 L497.9 331.0 L498.2 330.5 L498.5 330.9 L498.8 331.0 L499.1 329.6 L499.4 331.2 L499.7 330.8 L500.0 330.6 L500.4 330.1 L500.7 329.6 L501.0 329.3 L501.3 328.9 L501.6 329.3 L501.9 329.3 L502.2 330.0 L502.5 329.4 L502.8 328.6 L503.2 330.0 L503.5 328.4 L503.8 329.6 L504.1 330.3 L504.4 328.8 L504.7 329.0 L505.0 329.8 L505.3 330.8 L505.6 329.8 L505.9 329.5 L506.3 330.0 L506.6 328.6 L506.9 328.8 L507.2 330.3 L507.5 330.4 L507.8 330.3 L508.1 329.9 L508.4 330.2 L508.7 328.6 L509.0 329.1 L509.3 329.6 L509.6 330.5 L510.0 330.0 L510.3 329.9 L510.6 329.0 L510.9 329.9 L511.2 330.1 L511.5 330.3 L511.8 329.8 L512.1 331.3 L512.4 329.0 L512.7 330.5 L513.0 328.9 L513.3 328.9 L513.6 330.4 L514.0 329.6 L514.3 329.3 L514.6 329.9 L514.9 331.7 L515.2 329.4 L515.5 329.6 L515.8 330.8 L516.1 329.5 L516.4 331.6 L516.7 328.9 L517.0 329.7 L517.3 330.6 L517.6 329.7 L517.9 329.5 L518.2 328.8 L518.6 329.8 L518.9 330.5 L519.2 329.7 L519.5 329.1 L519.8 330.9 L520.1 330.5 L520.4 330.3 L520.7 329.7 L521.0 329.2 L521.3 330.7 L521.6 329.9 L521.9 329.6 L522.2 329.7 L522.5 330.2 L522.8 330.5 L523.1 329.9 L523.4 329.6 L523.7 329.0 L524.0 329.7 L524.3 329.7 L524.7 330.1 L525.0 329.9 L525.3 329.5 L525.6 329.8 L525.9 330.3 L526.2 329.8 L526.5 329.7 L526.8 329.7 L527.1 329.6 L527.4 330.1 L527.7 330.3 L528.0 329.6 L528.3 329.7 L528.6 330.2 L528.9 330.4 L529.2 330.9 L529.5 328.8 L529.8 330.5 L530.1 329.5 L530.4 330.3 L530.7 330.6 L531.0 331.3 L531.3 329.5 L531.6 330.7 L531.9 328.0 L532.2 329.9 L532.5 328.2 L532.8 329.3 L533.1 329.0 L533.4 328.7 L533.7 329.9 L534.0 329.0 L534.3 329.0 L534.6 329.2 L534.9 329.5 L535.3 330.3 L535.6 329.5 L535.9 329.1 L536.2 328.5 L536.5 330.3 L536.8 330.1 L537.1 330.3 L537.4 329.3 L537.7 330.8 L538.0 330.3 L538.3 331.6 L538.6 329.6 L538.9 330.5 L539.2 331.1 L539.5 329.7 L539.8 329.8 L540.1 329.5 L540.4 329.6 L540.7 330.5 L541.0 330.0 L541.3 329.0 L541.6 331.8 L541.9 329.3 L542.2 330.8 L542.4 329.9 L542.7 330.4 L543.0 330.3 L543.3 330.5 L543.6 330.5 L543.9 331.3 L544.2 329.3 L544.5 328.8 L544.8 328.5 L545.1 328.2 L545.4 330.3 L545.7 328.4 L546.0 328.5 L546.3 330.1 L546.6 329.6 L546.8 329.9 L547.1 327.6 L547.4 328.8 L547.7 328.6 L548.0 329.8 L548.3 329.8 L548.6 330.2 L548.9 330.9 L549.2 332.8 L549.4 329.4 L549.7 330.5 L550.0 330.6 L550.3 329.8 L550.6 329.0 L550.9 330.6 L551.2 330.6 L551.4 330.3 L551.7 329.2 L552.0 327.9 L552.3 328.9 L552.6 330.9 L552.8 330.9 L553.1 329.0 L553.4 330.1 L553.7 331.0 L554.0 331.0 L554.2 329.0 L554.5 329.7 L554.8 329.8 L555.1 328.9 L555.4 331.4 L555.6 328.3 L555.9 330.2 L556.2 330.8 L556.5 330.3 L556.7 330.5 L557.0 327.8 L557.3 329.9 L557.6 330.1 L557.8 330.1 L558.1 328.7 L558.4 329.7 L558.7 329.1 L558.9 331.2 L559.2 329.3 L559.5 329.8 L559.8 329.7 L560.0 329.7 L560.3 331.5 L560.6 331.2 L560.8 330.2 L561.1 329.6 L561.4 329.5 L561.6 328.1 L561.9 330.0 L562.2 330.2 L562.4 329.7 L562.7 329.0 L563.0 331.0 L563.2 330.6 L563.5 330.0 L563.8 331.4 L564.0 330.1 L564.3 331.6 L564.6 329.7 L564.8 330.0 L565.1 329.3 L565.4 330.8 L565.6 329.4 L565.9 330.3 L566.1 330.0 L566.4 329.2 L566.7 332.1 L566.9 331.0 L567.2 329.7 L567.4 330.7 L567.7 330.2 L568.0 329.5 L568.2 331.7 L568.5 330.7 L568.7 330.5 L569.0 330.4 L569.3 330.6 L569.5 330.7 L569.8 330.2 L570.0 330.1 L570.3 330.1 L570.5 328.4 L570.8 329.7 L571.0 331.2 L571.3 331.5 L571.6 330.1 L571.8 329.1 L572.1 331.0 L572.3 329.1 L572.6 328.9 L572.8 328.5 L573.1 327.9 L573.3 331.8 L573.6 330.0 L573.8 327.0 L574.1 329.1 L574.3 328.2 L574.6 330.8 L574.8 329.2 L575.1 329.1 L575.3 330.6 L575.6 331.6 L575.8 329.1 L576.1 329.8 L576.3 328.9 L576.6 330.8 L576.8 330.1 L577.0 330.0 L577.3 329.0 L577.5 331.4 L577.8 329.6 L578.0 331.1 L578.3 331.2 L578.5 328.7 L578.8 329.7 L579.0 330.1 L579.2 328.7 L579.5 329.8 L579.7 330.2 L580.0 328.1 L580.2 329.6 L580.4 330.2 L580.7 329.4 L580.9 329.3 L581.2 328.4 L581.4 329.9 L581.6 330.1 L581.9 329.8 L582.1 331.3 L582.4 329.9 L582.6 329.4 L582.8 331.8 L583.1 330.6 L583.3 331.1 L583.5 331.3 L583.8 329.3 L584.0 328.8 L584.2 331.7 L584.5 327.8 L584.7 329.3 L585.0 331.6 L585.2 329.2 L585.4 330.7 L585.7 329.0 L585.9 332.5 L586.1 329.8 L586.3 330.8 L586.6 328.4 L586.8 330.7 L587.0 330.7 L587.3 329.4 L587.5 330.7 L587.7 329.7 L588.0 330.3 L588.2 329.3 L588.4 329.4 L588.6 328.5 L588.9 330.4 L589.1 329.7 L589.3 329.1 L589.6 331.8 L589.8 329.9 L590.0 329.7 L590.2 329.1 L590.5 331.0 L590.7 330.1 L590.9 329.0 L591.1 329.6 L591.4 330.6 L591.6 330.0 L591.8 331.2 L592.0 331.1 L592.3 332.4 L592.5 329.2 L592.7 329.9 L592.9 329.6 L593.1 329.6 L593.4 330.0 L593.6 329.5 L593.8 331.0 L594.0 328.5 L594.3 330.0 L594.5 330.6 L594.7 331.1 L594.9 329.9 L595.1 330.3 L595.4 330.0 L595.6 330.5 L595.8 329.7 L596.0 330.8 L596.2 331.5 L596.4 332.4 L596.7 329.5 L596.9 330.9 L597.1 330.3 L597.3 330.4 L597.5 329.4 L597.7 330.1 L597.9 330.6 L598.2 330.0 L598.4 329.5 L598.6 331.4 L598.8 330.1 L599.0 329.7 L599.2 330.0 L599.4 329.7 L599.7 329.0 L599.9 330.6 L600.1 329.7 L600.3 328.5 L600.5 331.1 L600.7 329.5 L600.9 328.2 L601.1 329.8 L601.3 329.1 L601.6 330.1 L601.8 328.5 L602.0 329.4 L602.2 327.9 L602.4 328.2 L602.6 330.0 L602.8 329.2 L603.0 331.7 L603.2 329.0 L603.4 330.1 L603.6 328.3 L603.8 331.7 L604.0 329.9 L604.2 328.0 L604.5 330.2 L604.7 329.3 L604.9 332.5 L605.1 331.2 L605.3 328.9 L605.5 330.8 L605.7 330.5 L605.9 329.5 L606.1 329.5 L606.3 329.6 L606.5 328.7 L606.7 330.3 L606.9 329.3 L607.1 329.8 L607.3 329.5 L607.5 329.0 L607.7 332.3 L607.9 330.3 L608.1 330.7 L608.3 333.2 L608.5 329.9 L608.7 329.0 L608.9 327.8 L609.1 328.1 L609.3 330.7 L609.5 328.2 L609.7 327.3 L609.9 329.9 L610.1 329.8 L610.3 332.0 L610.5 328.1 L610.7 331.2 L610.9 327.0 L611.1 331.5 L611.3 330.3 L611.4 328.7 L611.6 331.5 L611.8 330.1 L612.0 330.7 L612.2 330.0 L612.4 331.4 L612.6 330.7 L612.8 328.7 L613.0 328.8 L613.2 328.8 L613.4 330.9 L613.6 330.7 L613.8 330.3 L614.0 329.6 L614.1 329.2 L614.3 330.4 L614.5 331.0 L614.7 330.9 L614.9 332.0 L615.1 332.1 L615.3 329.4 L615.5 333.2 L615.7 331.9 L615.9 330.3 L616.0 330.4 L616.2 330.6 L616.4 329.3 L616.6 329.1 L616.8 330.0 L617.0 329.4 L617.2 326.2 L617.3 330.7 L617.5 327.5 L617.7 330.4 L617.9 329.5 L618.1 329.1 L618.3 330.9 L618.5 328.9 L618.6 328.7 L618.8 330.3 L619.0 330.2 L619.2 329.0 L619.4 328.9 L619.6 329.0 L619.7 330.3 L619.9 330.5 L620.1 331.0 L620.3 329.8 L620.5 328.7 L620.7 330.9 L620.8 333.4 L621.0 332.0 L621.2 328.6 L621.4 330.9 L621.6 329.7 L621.7 329.8 L621.9 329.6 L622.1 328.8 L622.3 327.9 L622.5 330.5 L622.6 328.6 L622.8 329.2 L623.0 329.4 L623.2 330.0 L623.3 329.3 L623.5 329.7 L623.7 329.3 L623.9 330.3 L624.0 330.4 L624.2 331.9 L624.4 330.7 L624.6 329.2 L624.7 330.7 L624.9 331.2 L625.1 329.2 L625.3 329.2 L625.4 326.9 L625.6 331.9 L625.8 330.1 L626.0 331.8 L626.1 327.9 L626.3 326.7 L626.5 330.4 L626.7 328.8 L626.8 330.2 L627.0 328.9 L627.2 331.0 L627.3 329.5 L627.5 329.7 L627.7 330.6 L627.9 329.3 L628.0 329.4 L628.2 331.6 L628.4 329.8 L628.5 330.2 L628.7 330.6 L628.9 330.1 L629.0 330.7 L629.2 332.6 L629.4 331.4 L629.6 328.0 L629.7 326.9 L629.9 328.7 L630.1 326.7 L630.2 326.2 L630.4 328.5 L630.6 328.6 L630.7 330.2 L630.9 330.6 L631.1 332.9 L631.2 329.0 L631.4 329.1 L631.6 330.2 L631.7 331.5 L631.9 329.6 L632.0 328.7 L632.2 326.2 L632.4 331.1 L632.5 329.6 L632.7 332.1 L632.9 332.5 L633.0 332.6 L633.2 330.6 L633.4 331.2 L633.5 328.1 L633.7 330.5 L633.8 329.4 L634.0 331.4 L634.2 329.2 L634.3 329.6 L634.5 328.8 L634.6 332.5 L634.8 330.1 L635.0 328.5 L635.1 329.4 L635.3 328.1 L635.4 331.6 L635.6 331.7 L635.8 330.1 L635.9 330.3 L636.1 327.9 L636.2 332.1 L636.4 329.9 L636.6 332.8 L636.7 329.1 L636.9 330.6 L637.0 331.2 L637.2 331.1 L637.3 329.8 L637.5 331.5 L637.6 330.5 L637.8 330.0 L638.0 328.4 L638.1 331.8 L638.3 330.0 L638.4 330.6 L638.6 329.8 L638.7 330.4 L638.9 329.4 L639.0 333.6 L639.2 332.5 L639.4 330.9 L639.5 330.3 L639.7 330.9 L639.8 328.7 L640.0 330.8 L640.1 329.8 L640.3 329.3 L640.4 328.9 L640.6 328.9 L640.7 330.6 L640.9 329.9 L641.0 328.8 L641.2 330.5 L641.3 330.1 L641.5 329.8 L641.6 332.0 L641.8 329.5 L641.9 328.0 L642.1 330.1 L642.2 328.5 L642.4 331.1 L642.5 330.7 L642.7 329.5 L642.8 330.6 L643.0 329.3 L643.1 329.2 L643.3 327.3 L643.4 326.9 L643.6 329.3 L643.7 332.5 L643.9 328.2 L644.0 329.8 L644.2 328.9 L644.3 330.7 L644.4 328.7 L644.6 329.7 L644.7 330.5 L644.9 329.2 L645.0 329.7 L645.2 329.6 L645.3 330.7 L645.5 330.8 L645.6 331.0 L645.7 330.5 L645.9 328.4 L646.0 329.3 L646.2 330.6 L646.3 330.0 L646.5 331.2 L646.6 328.0 L646.8 328.6 L646.9 328.7 L647.0 330.3 L647.2 329.0 L647.3 328.6 L647.5 330.4 L647.6 329.3 L647.7 328.3 L647.9 330.5 L648.0 329.7 L648.2 330.6 L648.3 330.7 L648.4 329.0 L648.6 329.5 L648.7 329.7 L648.9 330.9 L649.0 329.8 L649.1 331.4 L649.3 329.1 L649.4 329.9 L649.6 331.8 L649.7 327.8 L649.8 328.0 L650.0 330.9 L650.1 331.0 L650.3 331.3 L650.4 331.1 L650.5 331.4 L650.7 329.2 L650.8 329.9 L650.9 330.7 L651.1 328.1 L651.2 328.0 L651.3 329.0 L651.5 331.3 L651.6 331.0 L651.8 328.0 L651.9 329.0 L652.0 329.1 L652.2 330.0 L652.3 330.2 L652.4 329.9 L652.6 328.5 L652.7 331.5 L652.8 331.4 L653.0 328.3 L653.1 329.6 L653.2 331.4 L653.4 330.4 L653.5 330.6 L653.6 329.2 L653.8 332.0 L653.9 328.3 L654.0 331.2 L654.2 332.5 L654.3 328.8 L654.4 331.9 L654.5 331.1 L654.7 328.9 L654.8 330.1 L654.9 332.0 L655.1 329.2 L655.2 329.2 L655.3 325.6 L655.5 327.4 L655.6 329.3 L655.7 329.7 L655.8 330.8 L656.0 331.2 L656.1 332.8 L656.2 330.9 L656.4 334.2 L656.5 331.0 L656.6 331.9 L656.7 328.7 L656.9 330.6 L657.0 331.4 L657.1 331.3 L657.3 329.2 L657.4 329.9 L657.5 328.0 L657.6 330.4 L657.8 328.3 L657.9 331.4 L658.0 330.3 L658.1 331.0 L658.3 330.8 L658.4 330.6 L658.5 331.1 L658.6 330.0 L658.8 327.5 L658.9 331.8 L659.0 328.8 L659.1 331.3 L659.3 330.7 L659.4 330.5 L659.5 330.2 L659.6 330.3 L659.8 330.2 L659.9 329.9 L660.0 329.7 L660.1 330.4 L660.3 330.8 L660.4 329.3 L660.5 330.3 L660.6 327.9 L660.7 328.7 L660.9 327.3 L661.0 329.5 L661.1 330.5 L661.2 331.0 L661.4 327.9 L661.5 331.1 L661.6 328.3 L661.7 329.3 L661.8 329.1 L662.0 332.3 L662.1 330.2 L662.1 333.1"/>
<path stroke="#ff00ff" stroke-width="1.95" d="M74.5 76.7 L77.1 77.8 L79.7 78.8 L82.3 79.8 L84.8 80.9 L87.3 81.9 L89.7 82.9 L92.0 83.9 L94.4 84.9 L96.7 85.9 L98.9 86.9 L101.1 87.9 L103.3 88.9 L105.5 89.9 L107.6 91.0 L109.7 92.1 L111.7 93.2 L113.7 94.4 L115.7 95.7 L117.7 97.1 L119.6 98.5 L121.5 99.9 L123.4 101.4 L125.2 102.9 L127.0 104.5 L128.8 106.2 L130.6 107.9 L132.4 109.7 L134.1 111.5 L135.8 113.4 L137.5 115.4 L139.2 117.6 L140.8 120.1 L142.4 123.0 L144.0 126.2 L145.6 129.5 L147.2 132.9 L148.7 136.3 L150.3 139.9 L151.8 144.3 L153.3 150.2 L154.8 157.8 L156.2 165.5 L157.7 173.6 L159.1 180.0 L160.5 185.5 L161.9 190.0 L163.3 193.6 L164.7 195.4 L166.1 196.4 L167.4 197.2"/>
</g>
<path fill="none" stroke="#000" stroke-width="1.6" d="M167.42 445.55V439.15 M167.42 13.00V19.40 M221.79 445.55V439.15 M221.79 13.00V19.40 M260.37 445.55V439.15 M260.37 13.00V19.40 M290.29 445.55V439.15 M290.29 13.00V19.40 M314.74 445.55V439.15 M314.74 13.00V19.40 M335.41 445.55V439.15 M335.41 13.00V19.40 M353.31 445.55V439.15 M353.31 13.00V19.40 M369.11 445.55V439.15 M369.11 13.00V19.40 M383.24 445.55V432.75 M383.24 13.00V25.80 M476.18 445.55V439.15 M476.18 13.00V19.40 M530.55 445.55V439.15 M530.55 13.00V19.40 M569.13 445.55V439.15 M569.13 13.00V19.40 M599.05 445.55V439.15 M599.05 13.00V19.40 M623.50 445.55V439.15 M623.50 13.00V19.40 M644.17 445.55V439.15 M644.17 13.00V19.40 M662.08 445.55V439.15 M662.08 13.00V19.40 M677.87 445.55V439.15 M677.87 13.00V19.40 M74.47 13.00H87.27 M692.00 13.00H679.20 M74.47 73.47H80.87 M692.00 73.47H685.60 M74.47 58.23H80.87 M692.00 58.23H685.60 M74.47 47.43H80.87 M692.00 47.43H685.60 M74.47 39.04H80.87 M692.00 39.04H685.60 M74.47 32.19H80.87 M692.00 32.19H685.60 M74.47 26.40H80.87 M692.00 26.40H685.60 M74.47 21.38H80.87 M692.00 21.38H685.60 M74.47 16.96H80.87 M692.00 16.96H685.60 M74.47 99.51H87.27 M692.00 99.51H679.20 M74.47 159.98H80.87 M692.00 159.98H685.60 M74.47 144.74H80.87 M692.00 144.74H685.60 M74.47 133.94H80.87 M692.00 133.94H685.60 M74.47 125.55H80.87 M692.00 125.55H685.60 M74.47 118.70H80.87 M692.00 118.70H685.60 M74.47 112.91H80.87 M692.00 112.91H685.60 M74.47 107.89H80.87 M692.00 107.89H685.60 M74.47 103.47H80.87 M692.00 103.47H685.60 M74.47 186.02H87.27 M692.00 186.02H679.20 M74.47 246.49H80.87 M692.00 246.49H685.60 M74.47 231.25H80.87 M692.00 231.25H685.60 M74.47 220.45H80.87 M692.00 220.45H685.60 M74.47 212.06H80.87 M692.00 212.06H685.60 M74.47 205.21H80.87 M692.00 205.21H685.60 M74.47 199.42H80.87 M692.00 199.42H685.60 M74.47 194.40H80.87 M692.00 194.40H685.60 M74.47 189.98H80.87 M692.00 189.98H685.60 M74.47 272.53H87.27 M692.00 272.53H679.20 M74.47 333.00H80.87 M692.00 333.00H685.60 M74.47 317.76H80.87 M692.00 317.76H685.60 M74.47 306.96H80.87 M692.00 306.96H685.60 M74.47 298.57H80.87 M692.00 298.57H685.60 M74.47 291.72H80.87 M692.00 291.72H685.60 M74.47 285.93H80.87 M692.00 285.93H685.60 M74.47 280.91H80.87 M692.00 280.91H685.60 M74.47 276.49H80.87 M692.00 276.49H685.60 M74.47 359.04H87.27 M692.00 359.04H679.20 M74.47 419.51H80.87 M692.00 419.51H685.60 M74.47 404.27H80.87 M692.00 404.27H685.60 M74.47 393.47H80.87 M692.00 393.47H685.60 M74.47 385.08H80.87 M692.00 385.08H685.60 M74.47 378.23H80.87 M692.00 378.23H685.60 M74.47 372.44H80.87 M692.00 372.44H685.60 M74.47 367.42H80.87 M692.00 367.42H685.60 M74.47 363.00H80.87 M692.00 363.00H685.60"/>
<rect x="74.47" y="13.00" width="617.53" height="432.55" fill="none" stroke="#000" stroke-width="1.45"/>
<text x="69.2" y="25.0" font-size="22.5" text-anchor="end">10<tspan font-size="16.2" dx="-0.8" dy="-12.9">0</tspan></text>
<text x="69.2" y="111.5" font-size="22.5" text-anchor="end">10<tspan font-size="16.2" dx="-0.8" dy="-12.9">-1</tspan></text>
<text x="69.2" y="198.0" font-size="22.5" text-anchor="end">10<tspan font-size="16.2" dx="-0.8" dy="-12.9">-2</tspan></text>
<text x="69.2" y="284.5" font-size="22.5" text-anchor="end">10<tspan font-size="16.2" dx="-0.8" dy="-12.9">-3</tspan></text>
<text x="69.2" y="371.0" font-size="22.5" text-anchor="end">10<tspan font-size="16.2" dx="-0.8" dy="-12.9">-4</tspan></text>
<text x="69.2" y="457.6" font-size="22.5" text-anchor="end">10<tspan font-size="16.2" dx="-0.8" dy="-12.9">-5</tspan></text>
<text x="60.0" y="474.8" font-size="22.5" text-anchor="start">10<tspan font-size="16.2" dx="-0.8" dy="-12.9">0</tspan></text>
<text x="368.7" y="474.8" font-size="22.5" text-anchor="start">10<tspan font-size="16.2" dx="-0.8" dy="-12.9">1</tspan></text>
<text x="677.5" y="474.8" font-size="22.5" text-anchor="start">10<tspan font-size="16.2" dx="-0.8" dy="-12.9">2</tspan></text>
<text x="1.4" y="68.0" font-size="44.3" font-style="italic">E</text>
<g transform="translate(40.8,47.6)" fill="#000"><g transform="rotate(-90)"><path d="M0 -0.55 L6.5 -1.55 A1.75 1.75 0 1 1 6.5 1.55 L0 0.55Z"/></g><g transform="rotate(90)"><path d="M0 -0.55 L6.5 -1.55 A1.75 1.75 0 1 1 6.5 1.55 L0 0.55Z"/></g><g transform="rotate(-27)"><path d="M0 -0.55 L6.5 -1.55 A1.75 1.75 0 1 1 6.5 1.55 L0 0.55Z"/></g><g transform="rotate(27)"><path d="M0 -0.55 L6.5 -1.55 A1.75 1.75 0 1 1 6.5 1.55 L0 0.55Z"/></g><g transform="rotate(153)"><path d="M0 -0.55 L6.5 -1.55 A1.75 1.75 0 1 1 6.5 1.55 L0 0.55Z"/></g><g transform="rotate(207)"><path d="M0 -0.55 L6.5 -1.55 A1.75 1.75 0 1 1 6.5 1.55 L0 0.55Z"/></g></g>
<text x="383.8" y="504.0" font-size="43.1" text-anchor="middle"># sweeps</text>
<rect x="537.5" y="50.0" width="110.4" height="135.5" fill="#fff" stroke="#000" stroke-width="1"/>
<line x1="543.8" x2="568.9" y1="66.0" y2="66.0" stroke="#000000" stroke-width="1"/>
<text x="581" y="71.2" font-size="21">ϕ<tspan dx="5.3" dy="1.9" font-size="23">=</tspan><tspan x="615.3" dy="-1.7" font-size="22">0</tspan></text>
<line x1="543.8" x2="568.9" y1="91.8" y2="91.8" stroke="#ff0000" stroke-width="1"/>
<text x="581" y="97.0" font-size="21">ϕ<tspan dx="5.3" dy="1.9" font-size="23">=</tspan><tspan x="615.3" dy="-1.7" font-size="22">0.1</tspan></text>
<line x1="543.8" x2="568.9" y1="117.7" y2="117.7" stroke="#00ff00" stroke-width="1"/>
<text x="581" y="122.9" font-size="21">ϕ<tspan dx="5.3" dy="1.9" font-size="23">=</tspan><tspan x="615.3" dy="-1.7" font-size="22">0.2</tspan></text>
<line x1="543.8" x2="568.9" y1="143.6" y2="143.6" stroke="#0000ff" stroke-width="1"/>
<text x="581" y="148.8" font-size="21">ϕ<tspan dx="5.3" dy="1.9" font-size="23">=</tspan><tspan x="615.3" dy="-1.7" font-size="22">0.3</tspan></text>
<line x1="543.8" x2="568.9" y1="169.4" y2="169.4" stroke="#ff00ff" stroke-width="1"/>
<text x="581" y="174.6" font-size="21">ϕ<tspan dx="5.3" dy="1.9" font-size="23">=</tspan><tspan x="615.3" dy="-1.7" font-size="22">0.4</tspan></text>
</svg>
</body></html>
